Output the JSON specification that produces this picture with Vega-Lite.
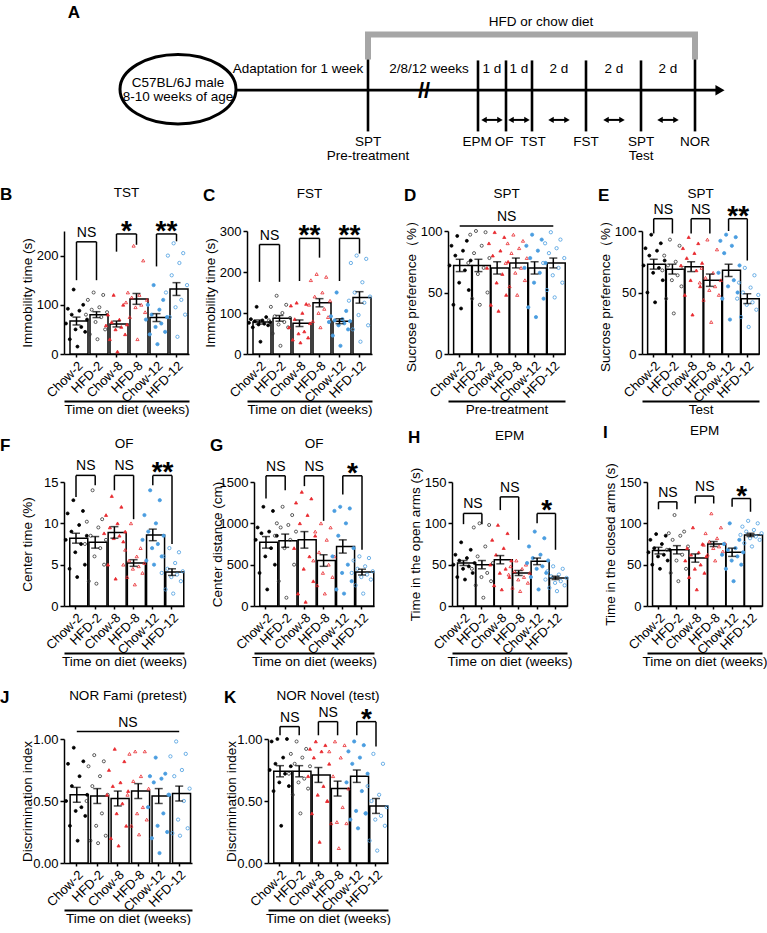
{
"$schema":"https://vega.github.io/schema/vega-lite/v6.json",
"padding":0,
"background":"white",
"config":{"font":"Liberation Sans","view":{"stroke":null},
 "axis":{"grid":false,"domainColor":"black","domainWidth":1.5,"tickColor":"black","tickWidth":1.5,"tickSize":4,"labelColor":"black","labelFontSize":13,"titleColor":"black","titleFontSize":13.5,"titleFontWeight":"normal","labelPadding":2},
 "axisY":{"minExtent":28,"maxExtent":28,"titlePadding":2,"labelOverlap":false},
 "axisX":{"labelAngle":-45,"tickSize":3,"labelOverlap":false},
 "title":{"fontSize":13.5,"fontWeight":"normal","color":"black","offset":8}},
"datasets":{
"schBracket":[{"x":304,"y":62,"o":1},{"x":304,"y":36,"o":2},{"x":631,"y":36,"o":3},{"x":631,"y":62,"o":4}],
"schRule":[{"x":172,"x2":652,"y":94,"y2":94},{"x":304,"x2":304,"y":62,"y2":137},{"x":414,"x2":414,"y":63,"y2":137},{"x":442,"x2":442,"y":63,"y2":137},{"x":468,"x2":468,"y":63,"y2":137},{"x":522,"x2":522,"y":63,"y2":137},{"x":577,"x2":577,"y":63,"y2":137},{"x":631,"x2":631,"y":62,"y2":137}],
"schArrow":[{"x":420,"x2":436,"y":125},{"x":447,"x2":463,"y":125},{"x":487,"x2":503,"y":125},{"x":542,"x2":558,"y":125},{"x":596,"x2":612,"y":125}],
"schNode":[{"k":"ellipse","x":114,"y":93},{"k":"head","x":656,"y":94}],
"schText":[{"k":"letter","x":10,"y":14,"t":"A"},{"k":"label","x":477,"y":23,"t":"HFD or chow diet"},{"k":"label","x":114,"y":86,"t":"C57BL/6J male"},{"k":"label","x":114,"y":101,"t":"8-10 weeks of age"},{"k":"label","x":234,"y":72,"t":"Adaptation for 1 week"},{"k":"label","x":365,"y":72,"t":"2/8/12 weeks"},{"k":"label","x":428,"y":72,"t":"1 d"},{"k":"label","x":455,"y":72,"t":"1 d"},{"k":"label","x":495,"y":72,"t":"2 d"},{"k":"label","x":550,"y":72,"t":"2 d"},{"k":"label","x":604,"y":72,"t":"2 d"},{"k":"label","x":304,"y":148,"t":"SPT"},{"k":"label","x":304,"y":163,"t":"Pre-treatment"},{"k":"label","x":413,"y":148,"t":"EPM"},{"k":"label","x":440,"y":148,"t":"OF"},{"k":"label","x":469,"y":148,"t":"TST"},{"k":"label","x":522,"y":148,"t":"FST"},{"k":"label","x":577,"y":148,"t":"SPT"},{"k":"label","x":577,"y":163,"t":"Test"},{"k":"label","x":631,"y":148,"t":"NOR"},{"k":"break","x":360,"y":95,"t":"//"}],
"bars":[
{"p":"B","g":"Chow-2","m":67,"s":8},{"p":"B","g":"HFD-2","m":80,"s":6},{"p":"B","g":"Chow-8","m":61,"s":6},{"p":"B","g":"HFD-8","m":112,"s":11},{"p":"B","g":"Chow-12","m":74,"s":8},{"p":"B","g":"HFD-12","m":132,"s":13},
{"p":"C","g":"Chow-2","m":78,"s":5},{"p":"C","g":"HFD-2","m":87,"s":7},{"p":"C","g":"Chow-8","m":75,"s":8},{"p":"C","g":"HFD-8","m":125,"s":10},{"p":"C","g":"Chow-12","m":80,"s":6},{"p":"C","g":"HFD-12","m":138,"s":14},
{"p":"D","g":"Chow-2","m":72,"s":5},{"p":"D","g":"HFD-2","m":72,"s":5},{"p":"D","g":"Chow-8","m":70,"s":5},{"p":"D","g":"HFD-8","m":74,"s":4},{"p":"D","g":"Chow-12","m":70,"s":5},{"p":"D","g":"HFD-12","m":74,"s":4},
{"p":"E","g":"Chow-2","m":73,"s":4},{"p":"E","g":"HFD-2","m":69,"s":4},{"p":"E","g":"Chow-8","m":71,"s":4},{"p":"E","g":"HFD-8","m":60,"s":5},{"p":"E","g":"Chow-12","m":68,"s":5},{"p":"E","g":"HFD-12","m":45,"s":4},
{"p":"F","g":"Chow-2","m":8.2,"s":0.6},{"p":"F","g":"HFD-2","m":7.7,"s":0.7},{"p":"F","g":"Chow-8","m":8.9,"s":0.7},{"p":"F","g":"HFD-8","m":5.2,"s":0.4},{"p":"F","g":"Chow-12","m":8.6,"s":0.7},{"p":"F","g":"HFD-12","m":4.1,"s":0.4},
{"p":"G","g":"Chow-2","m":770,"s":70},{"p":"G","g":"HFD-2","m":790,"s":80},{"p":"G","g":"Chow-8","m":800,"s":100},{"p":"G","g":"HFD-8","m":550,"s":70},{"p":"G","g":"Chow-12","m":720,"s":80},{"p":"G","g":"HFD-12","m":410,"s":35},
{"p":"H","g":"Chow-2","m":52,"s":3},{"p":"H","g":"HFD-2","m":50,"s":5},{"p":"H","g":"Chow-8","m":56,"s":5},{"p":"H","g":"HFD-8","m":40,"s":3},{"p":"H","g":"Chow-12","m":54,"s":4},{"p":"H","g":"HFD-12","m":34,"s":2},
{"p":"I","g":"Chow-2","m":67,"s":4},{"p":"I","g":"HFD-2","m":68,"s":5},{"p":"I","g":"Chow-8","m":58,"s":5},{"p":"I","g":"HFD-8","m":75,"s":3},{"p":"I","g":"Chow-12","m":65,"s":5},{"p":"I","g":"HFD-12","m":86,"s":2},
{"p":"J","g":"Chow-2","m":0.55,"s":0.06},{"p":"J","g":"HFD-2","m":0.54,"s":0.06},{"p":"J","g":"Chow-8","m":0.52,"s":0.06},{"p":"J","g":"HFD-8","m":0.58,"s":0.06},{"p":"J","g":"Chow-12","m":0.54,"s":0.06},{"p":"J","g":"HFD-12","m":0.56,"s":0.06},
{"p":"K","g":"Chow-2","m":0.74,"s":0.045},{"p":"K","g":"HFD-2","m":0.74,"s":0.045},{"p":"K","g":"Chow-8","m":0.71,"s":0.06},{"p":"K","g":"HFD-8","m":0.60,"s":0.06},{"p":"K","g":"Chow-12","m":0.70,"s":0.05},{"p":"K","g":"HFD-12","m":0.46,"s":0.06}],
"br":[
{"p":"B","g1":"Chow-2","g2":"HFD-2","tx":"Chow-2","top":228,"l":150,"rr":150,"t":"NS"},{"p":"B","g1":"Chow-8","g2":"HFD-8","tx":"Chow-8","top":244,"l":208,"rr":222,"t":"*"},{"p":"B","g1":"Chow-12","g2":"HFD-12","tx":"Chow-12","top":244,"l":178,"rr":229,"t":"**"},
{"p":"C","g1":"Chow-2","g2":"HFD-2","tx":"Chow-2","top":267,"l":176,"rr":176,"t":"NS"},{"p":"C","g1":"Chow-8","g2":"HFD-8","tx":"Chow-8","top":282,"l":178,"rr":235,"t":"**"},{"p":"C","g1":"Chow-12","g2":"HFD-12","tx":"Chow-12","top":282,"l":178,"rr":245,"t":"**"},
{"p":"D","g1":"Chow-2","g2":"HFD-12","tx":"Chow-8","top":104,"l":104,"rr":104,"t":"NS"},
{"p":"E","g1":"Chow-2","g2":"HFD-2","tx":"Chow-2","top":110,"l":98,"rr":98,"t":"NS"},{"p":"E","g1":"Chow-8","g2":"HFD-8","tx":"Chow-8","top":110,"l":98,"rr":98,"t":"NS"},{"p":"E","g1":"Chow-12","g2":"HFD-12","tx":"Chow-12","top":110,"l":100,"rr":76,"t":"**"},
{"p":"F","g1":"Chow-2","g2":"HFD-2","tx":"Chow-2","top":15.8,"l":13.2,"rr":14.6,"t":"NS"},{"p":"F","g1":"Chow-8","g2":"HFD-8","tx":"Chow-8","top":15.8,"l":14.0,"rr":10.5,"t":"NS"},{"p":"F","g1":"Chow-12","g2":"HFD-12","tx":"Chow-12","top":15.8,"l":14.6,"rr":7.5,"t":"**"},
{"p":"G","g1":"Chow-2","g2":"HFD-2","tx":"Chow-2","top":1575,"l":1300,"rr":1400,"t":"NS"},{"p":"G","g1":"Chow-8","g2":"HFD-8","tx":"Chow-8","top":1575,"l":1450,"rr":1030,"t":"NS"},{"p":"G","g1":"Chow-12","g2":"HFD-12","tx":"Chow-12","top":1575,"l":1350,"rr":680,"t":"*"},
{"p":"H","g1":"Chow-2","g2":"HFD-2","tx":"Chow-2","top":112,"l":99,"rr":99,"t":"NS"},{"p":"H","g1":"Chow-8","g2":"HFD-8","tx":"Chow-8","top":132,"l":116,"rr":80,"t":"NS"},{"p":"H","g1":"Chow-12","g2":"HFD-12","tx":"Chow-12","top":112,"l":100,"rr":68,"t":"*"},
{"p":"I","g1":"Chow-2","g2":"HFD-2","tx":"Chow-2","top":126,"l":117,"rr":117,"t":"NS"},{"p":"I","g1":"Chow-8","g2":"HFD-8","tx":"Chow-8","top":133,"l":124,"rr":124,"t":"NS"},{"p":"I","g1":"Chow-12","g2":"HFD-12","tx":"Chow-12","top":130,"l":120,"rr":114,"t":"*"},
{"p":"J","g1":"Chow-2","g2":"HFD-12","tx":"Chow-8","top":1.06,"l":1.06,"rr":1.06,"t":"NS"},
{"p":"K","g1":"Chow-2","g2":"HFD-2","tx":"Chow-2","top":1.10,"l":1.03,"rr":1.03,"t":"NS"},{"p":"K","g1":"Chow-8","g2":"HFD-8","tx":"Chow-8","top":1.14,"l":1.03,"rr":1.03,"t":"NS"},{"p":"K","g1":"Chow-12","g2":"HFD-12","tx":"Chow-12","top":1.14,"l":1.03,"rr":0.94,"t":"*"}],
"pts":[
{"p":"B","g":"Chow-2","r":1,"v":131},{"p":"B","g":"Chow-2","r":2,"v":100},{"p":"B","g":"Chow-2","r":3,"v":92},{"p":"B","g":"Chow-2","r":4,"v":88},{"p":"B","g":"Chow-2","r":5,"v":80},{"p":"B","g":"Chow-2","r":6,"v":70},{"p":"B","g":"Chow-2","r":7,"v":62},{"p":"B","g":"Chow-2","r":8,"v":55},{"p":"B","g":"Chow-2","r":9,"v":50},{"p":"B","g":"Chow-2","r":10,"v":45},{"p":"B","g":"Chow-2","r":11,"v":30},{"p":"B","g":"Chow-2","r":12,"v":15},
{"p":"B","g":"HFD-2","r":1,"v":125},{"p":"B","g":"HFD-2","r":2,"v":120},{"p":"B","g":"HFD-2","r":3,"v":110},{"p":"B","g":"HFD-2","r":4,"v":95},{"p":"B","g":"HFD-2","r":5,"v":90},{"p":"B","g":"HFD-2","r":6,"v":85},{"p":"B","g":"HFD-2","r":7,"v":80},{"p":"B","g":"HFD-2","r":8,"v":75},{"p":"B","g":"HFD-2","r":9,"v":65},{"p":"B","g":"HFD-2","r":10,"v":50},{"p":"B","g":"HFD-2","r":11,"v":40},{"p":"B","g":"HFD-2","r":12,"v":30},
{"p":"B","g":"Chow-8","r":1,"v":120},{"p":"B","g":"Chow-8","r":2,"v":100},{"p":"B","g":"Chow-8","r":3,"v":80},{"p":"B","g":"Chow-8","r":4,"v":70},{"p":"B","g":"Chow-8","r":5,"v":65},{"p":"B","g":"Chow-8","r":6,"v":60},{"p":"B","g":"Chow-8","r":7,"v":58},{"p":"B","g":"Chow-8","r":8,"v":55},{"p":"B","g":"Chow-8","r":9,"v":50},{"p":"B","g":"Chow-8","r":10,"v":40},{"p":"B","g":"Chow-8","r":11,"v":30},{"p":"B","g":"Chow-8","r":12,"v":5},
{"p":"B","g":"HFD-8","r":1,"v":220},{"p":"B","g":"HFD-8","r":2,"v":190},{"p":"B","g":"HFD-8","r":3,"v":125},{"p":"B","g":"HFD-8","r":4,"v":120},{"p":"B","g":"HFD-8","r":5,"v":115},{"p":"B","g":"HFD-8","r":6,"v":110},{"p":"B","g":"HFD-8","r":7,"v":105},{"p":"B","g":"HFD-8","r":8,"v":100},{"p":"B","g":"HFD-8","r":9,"v":95},{"p":"B","g":"HFD-8","r":10,"v":85},{"p":"B","g":"HFD-8","r":11,"v":75},{"p":"B","g":"HFD-8","r":12,"v":30},
{"p":"B","g":"Chow-12","r":1,"v":140},{"p":"B","g":"Chow-12","r":2,"v":110},{"p":"B","g":"Chow-12","r":3,"v":100},{"p":"B","g":"Chow-12","r":4,"v":90},{"p":"B","g":"Chow-12","r":5,"v":80},{"p":"B","g":"Chow-12","r":6,"v":75},{"p":"B","g":"Chow-12","r":7,"v":70},{"p":"B","g":"Chow-12","r":8,"v":62},{"p":"B","g":"Chow-12","r":9,"v":55},{"p":"B","g":"Chow-12","r":10,"v":45},{"p":"B","g":"Chow-12","r":11,"v":40},{"p":"B","g":"Chow-12","r":12,"v":20},
{"p":"B","g":"HFD-12","r":1,"v":225},{"p":"B","g":"HFD-12","r":2,"v":205},{"p":"B","g":"HFD-12","r":3,"v":200},{"p":"B","g":"HFD-12","r":4,"v":185},{"p":"B","g":"HFD-12","r":5,"v":160},{"p":"B","g":"HFD-12","r":6,"v":140},{"p":"B","g":"HFD-12","r":7,"v":125},{"p":"B","g":"HFD-12","r":8,"v":110},{"p":"B","g":"HFD-12","r":9,"v":95},{"p":"B","g":"HFD-12","r":10,"v":80},{"p":"B","g":"HFD-12","r":11,"v":75},{"p":"B","g":"HFD-12","r":12,"v":35},
{"p":"C","g":"Chow-2","r":1,"v":115},{"p":"C","g":"Chow-2","r":2,"v":90},{"p":"C","g":"Chow-2","r":3,"v":85},{"p":"C","g":"Chow-2","r":4,"v":82},{"p":"C","g":"Chow-2","r":5,"v":80},{"p":"C","g":"Chow-2","r":6,"v":78},{"p":"C","g":"Chow-2","r":7,"v":76},{"p":"C","g":"Chow-2","r":8,"v":74},{"p":"C","g":"Chow-2","r":9,"v":72},{"p":"C","g":"Chow-2","r":10,"v":70},{"p":"C","g":"Chow-2","r":11,"v":65},{"p":"C","g":"Chow-2","r":12,"v":30},
{"p":"C","g":"HFD-2","r":1,"v":142},{"p":"C","g":"HFD-2","r":2,"v":120},{"p":"C","g":"HFD-2","r":3,"v":115},{"p":"C","g":"HFD-2","r":4,"v":100},{"p":"C","g":"HFD-2","r":5,"v":92},{"p":"C","g":"HFD-2","r":6,"v":88},{"p":"C","g":"HFD-2","r":7,"v":82},{"p":"C","g":"HFD-2","r":8,"v":78},{"p":"C","g":"HFD-2","r":9,"v":72},{"p":"C","g":"HFD-2","r":10,"v":65},{"p":"C","g":"HFD-2","r":11,"v":50},{"p":"C","g":"HFD-2","r":12,"v":20},
{"p":"C","g":"Chow-8","r":1,"v":125},{"p":"C","g":"Chow-8","r":2,"v":122},{"p":"C","g":"Chow-8","r":3,"v":118},{"p":"C","g":"Chow-8","r":4,"v":100},{"p":"C","g":"Chow-8","r":5,"v":85},{"p":"C","g":"Chow-8","r":6,"v":75},{"p":"C","g":"Chow-8","r":7,"v":65},{"p":"C","g":"Chow-8","r":8,"v":55},{"p":"C","g":"Chow-8","r":9,"v":50},{"p":"C","g":"Chow-8","r":10,"v":40},{"p":"C","g":"Chow-8","r":11,"v":35},{"p":"C","g":"Chow-8","r":12,"v":28},
{"p":"C","g":"HFD-8","r":1,"v":195},{"p":"C","g":"HFD-8","r":2,"v":188},{"p":"C","g":"HFD-8","r":3,"v":180},{"p":"C","g":"HFD-8","r":4,"v":150},{"p":"C","g":"HFD-8","r":5,"v":140},{"p":"C","g":"HFD-8","r":6,"v":130},{"p":"C","g":"HFD-8","r":7,"v":120},{"p":"C","g":"HFD-8","r":8,"v":110},{"p":"C","g":"HFD-8","r":9,"v":100},{"p":"C","g":"HFD-8","r":10,"v":90},{"p":"C","g":"HFD-8","r":11,"v":80},{"p":"C","g":"HFD-8","r":12,"v":65},
{"p":"C","g":"Chow-12","r":1,"v":150},{"p":"C","g":"Chow-12","r":2,"v":105},{"p":"C","g":"Chow-12","r":3,"v":92},{"p":"C","g":"Chow-12","r":4,"v":85},{"p":"C","g":"Chow-12","r":5,"v":82},{"p":"C","g":"Chow-12","r":6,"v":80},{"p":"C","g":"Chow-12","r":7,"v":78},{"p":"C","g":"Chow-12","r":8,"v":75},{"p":"C","g":"Chow-12","r":9,"v":70},{"p":"C","g":"Chow-12","r":10,"v":60},{"p":"C","g":"Chow-12","r":11,"v":45},{"p":"C","g":"Chow-12","r":12,"v":20},
{"p":"C","g":"HFD-12","r":1,"v":240},{"p":"C","g":"HFD-12","r":2,"v":232},{"p":"C","g":"HFD-12","r":3,"v":222},{"p":"C","g":"HFD-12","r":4,"v":175},{"p":"C","g":"HFD-12","r":5,"v":150},{"p":"C","g":"HFD-12","r":6,"v":140},{"p":"C","g":"HFD-12","r":7,"v":130},{"p":"C","g":"HFD-12","r":8,"v":125},{"p":"C","g":"HFD-12","r":9,"v":95},{"p":"C","g":"HFD-12","r":10,"v":70},{"p":"C","g":"HFD-12","r":11,"v":60},{"p":"C","g":"HFD-12","r":12,"v":30},
{"p":"D","g":"Chow-2","r":1,"v":96},{"p":"D","g":"Chow-2","r":2,"v":92},{"p":"D","g":"Chow-2","r":3,"v":88},{"p":"D","g":"Chow-2","r":4,"v":84},{"p":"D","g":"Chow-2","r":5,"v":80},{"p":"D","g":"Chow-2","r":6,"v":76},{"p":"D","g":"Chow-2","r":7,"v":72},{"p":"D","g":"Chow-2","r":8,"v":68},{"p":"D","g":"Chow-2","r":9,"v":58},{"p":"D","g":"Chow-2","r":10,"v":52},{"p":"D","g":"Chow-2","r":11,"v":40},{"p":"D","g":"Chow-2","r":12,"v":37},
{"p":"D","g":"HFD-2","r":1,"v":100},{"p":"D","g":"HFD-2","r":2,"v":99},{"p":"D","g":"HFD-2","r":3,"v":97},{"p":"D","g":"HFD-2","r":4,"v":88},{"p":"D","g":"HFD-2","r":5,"v":82},{"p":"D","g":"HFD-2","r":6,"v":78},{"p":"D","g":"HFD-2","r":7,"v":74},{"p":"D","g":"HFD-2","r":8,"v":70},{"p":"D","g":"HFD-2","r":9,"v":65},{"p":"D","g":"HFD-2","r":10,"v":50},{"p":"D","g":"HFD-2","r":11,"v":45},{"p":"D","g":"HFD-2","r":12,"v":40},
{"p":"D","g":"Chow-8","r":1,"v":99},{"p":"D","g":"Chow-8","r":2,"v":95},{"p":"D","g":"Chow-8","r":3,"v":90},{"p":"D","g":"Chow-8","r":4,"v":84},{"p":"D","g":"Chow-8","r":5,"v":80},{"p":"D","g":"Chow-8","r":6,"v":75},{"p":"D","g":"Chow-8","r":7,"v":70},{"p":"D","g":"Chow-8","r":8,"v":65},{"p":"D","g":"Chow-8","r":9,"v":58},{"p":"D","g":"Chow-8","r":10,"v":48},{"p":"D","g":"Chow-8","r":11,"v":40},{"p":"D","g":"Chow-8","r":12,"v":35},
{"p":"D","g":"HFD-8","r":1,"v":97},{"p":"D","g":"HFD-8","r":2,"v":92},{"p":"D","g":"HFD-8","r":3,"v":90},{"p":"D","g":"HFD-8","r":4,"v":86},{"p":"D","g":"HFD-8","r":5,"v":82},{"p":"D","g":"HFD-8","r":6,"v":78},{"p":"D","g":"HFD-8","r":7,"v":74},{"p":"D","g":"HFD-8","r":8,"v":70},{"p":"D","g":"HFD-8","r":9,"v":66},{"p":"D","g":"HFD-8","r":10,"v":60},{"p":"D","g":"HFD-8","r":11,"v":55},{"p":"D","g":"HFD-8","r":12,"v":48},
{"p":"D","g":"Chow-12","r":1,"v":97},{"p":"D","g":"Chow-12","r":2,"v":93},{"p":"D","g":"Chow-12","r":3,"v":88},{"p":"D","g":"Chow-12","r":4,"v":84},{"p":"D","g":"Chow-12","r":5,"v":78},{"p":"D","g":"Chow-12","r":6,"v":74},{"p":"D","g":"Chow-12","r":7,"v":70},{"p":"D","g":"Chow-12","r":8,"v":66},{"p":"D","g":"Chow-12","r":9,"v":58},{"p":"D","g":"Chow-12","r":10,"v":45},{"p":"D","g":"Chow-12","r":11,"v":38},{"p":"D","g":"Chow-12","r":12,"v":30},
{"p":"D","g":"HFD-12","r":1,"v":99},{"p":"D","g":"HFD-12","r":2,"v":93},{"p":"D","g":"HFD-12","r":3,"v":90},{"p":"D","g":"HFD-12","r":4,"v":86},{"p":"D","g":"HFD-12","r":5,"v":82},{"p":"D","g":"HFD-12","r":6,"v":78},{"p":"D","g":"HFD-12","r":7,"v":74},{"p":"D","g":"HFD-12","r":8,"v":70},{"p":"D","g":"HFD-12","r":9,"v":64},{"p":"D","g":"HFD-12","r":10,"v":58},{"p":"D","g":"HFD-12","r":11,"v":52},{"p":"D","g":"HFD-12","r":12,"v":46},
{"p":"E","g":"Chow-2","r":1,"v":97},{"p":"E","g":"Chow-2","r":2,"v":90},{"p":"E","g":"Chow-2","r":3,"v":86},{"p":"E","g":"Chow-2","r":4,"v":84},{"p":"E","g":"Chow-2","r":5,"v":80},{"p":"E","g":"Chow-2","r":6,"v":76},{"p":"E","g":"Chow-2","r":7,"v":72},{"p":"E","g":"Chow-2","r":8,"v":70},{"p":"E","g":"Chow-2","r":9,"v":66},{"p":"E","g":"Chow-2","r":10,"v":60},{"p":"E","g":"Chow-2","r":11,"v":50},{"p":"E","g":"Chow-2","r":12,"v":42},
{"p":"E","g":"HFD-2","r":1,"v":93},{"p":"E","g":"HFD-2","r":2,"v":88},{"p":"E","g":"HFD-2","r":3,"v":80},{"p":"E","g":"HFD-2","r":4,"v":75},{"p":"E","g":"HFD-2","r":5,"v":72},{"p":"E","g":"HFD-2","r":6,"v":70},{"p":"E","g":"HFD-2","r":7,"v":68},{"p":"E","g":"HFD-2","r":8,"v":64},{"p":"E","g":"HFD-2","r":9,"v":60},{"p":"E","g":"HFD-2","r":10,"v":55},{"p":"E","g":"HFD-2","r":11,"v":45},{"p":"E","g":"HFD-2","r":12,"v":33},
{"p":"E","g":"Chow-8","r":1,"v":95},{"p":"E","g":"Chow-8","r":2,"v":90},{"p":"E","g":"Chow-8","r":3,"v":86},{"p":"E","g":"Chow-8","r":4,"v":82},{"p":"E","g":"Chow-8","r":5,"v":78},{"p":"E","g":"Chow-8","r":6,"v":74},{"p":"E","g":"Chow-8","r":7,"v":72},{"p":"E","g":"Chow-8","r":8,"v":68},{"p":"E","g":"Chow-8","r":9,"v":60},{"p":"E","g":"Chow-8","r":10,"v":55},{"p":"E","g":"Chow-8","r":11,"v":48},{"p":"E","g":"Chow-8","r":12,"v":32},
{"p":"E","g":"HFD-8","r":1,"v":93},{"p":"E","g":"HFD-8","r":2,"v":85},{"p":"E","g":"HFD-8","r":3,"v":70},{"p":"E","g":"HFD-8","r":4,"v":66},{"p":"E","g":"HFD-8","r":5,"v":62},{"p":"E","g":"HFD-8","r":6,"v":60},{"p":"E","g":"HFD-8","r":7,"v":58},{"p":"E","g":"HFD-8","r":8,"v":55},{"p":"E","g":"HFD-8","r":9,"v":52},{"p":"E","g":"HFD-8","r":10,"v":48},{"p":"E","g":"HFD-8","r":11,"v":44},{"p":"E","g":"HFD-8","r":12,"v":26},
{"p":"E","g":"Chow-12","r":1,"v":97},{"p":"E","g":"Chow-12","r":2,"v":95},{"p":"E","g":"Chow-12","r":3,"v":92},{"p":"E","g":"Chow-12","r":4,"v":88},{"p":"E","g":"Chow-12","r":5,"v":82},{"p":"E","g":"Chow-12","r":6,"v":72},{"p":"E","g":"Chow-12","r":7,"v":66},{"p":"E","g":"Chow-12","r":8,"v":60},{"p":"E","g":"Chow-12","r":9,"v":55},{"p":"E","g":"Chow-12","r":10,"v":50},{"p":"E","g":"Chow-12","r":11,"v":45},{"p":"E","g":"Chow-12","r":12,"v":28},
{"p":"E","g":"HFD-12","r":1,"v":70},{"p":"E","g":"HFD-12","r":2,"v":64},{"p":"E","g":"HFD-12","r":3,"v":58},{"p":"E","g":"HFD-12","r":4,"v":54},{"p":"E","g":"HFD-12","r":5,"v":50},{"p":"E","g":"HFD-12","r":6,"v":48},{"p":"E","g":"HFD-12","r":7,"v":45},{"p":"E","g":"HFD-12","r":8,"v":42},{"p":"E","g":"HFD-12","r":9,"v":40},{"p":"E","g":"HFD-12","r":10,"v":36},{"p":"E","g":"HFD-12","r":11,"v":30},{"p":"E","g":"HFD-12","r":12,"v":22},
{"p":"F","g":"Chow-2","r":1,"v":12.8},{"p":"F","g":"Chow-2","r":2,"v":11.5},{"p":"F","g":"Chow-2","r":3,"v":11.2},{"p":"F","g":"Chow-2","r":4,"v":9.8},{"p":"F","g":"Chow-2","r":5,"v":9.0},{"p":"F","g":"Chow-2","r":6,"v":8.5},{"p":"F","g":"Chow-2","r":7,"v":8.0},{"p":"F","g":"Chow-2","r":8,"v":7.5},{"p":"F","g":"Chow-2","r":9,"v":6.5},{"p":"F","g":"Chow-2","r":10,"v":5.0},{"p":"F","g":"Chow-2","r":11,"v":4.5},{"p":"F","g":"Chow-2","r":12,"v":3.5},
{"p":"F","g":"HFD-2","r":1,"v":14.0},{"p":"F","g":"HFD-2","r":2,"v":10.5},{"p":"F","g":"HFD-2","r":3,"v":10.2},{"p":"F","g":"HFD-2","r":4,"v":9.5},{"p":"F","g":"HFD-2","r":5,"v":8.5},{"p":"F","g":"HFD-2","r":6,"v":8.0},{"p":"F","g":"HFD-2","r":7,"v":7.5},{"p":"F","g":"HFD-2","r":8,"v":7.0},{"p":"F","g":"HFD-2","r":9,"v":6.0},{"p":"F","g":"HFD-2","r":10,"v":5.0},{"p":"F","g":"HFD-2","r":11,"v":3.0},{"p":"F","g":"HFD-2","r":12,"v":2.7},
{"p":"F","g":"Chow-8","r":1,"v":13.3},{"p":"F","g":"Chow-8","r":2,"v":12.0},{"p":"F","g":"Chow-8","r":3,"v":11.0},{"p":"F","g":"Chow-8","r":4,"v":10.0},{"p":"F","g":"Chow-8","r":5,"v":9.5},{"p":"F","g":"Chow-8","r":6,"v":9.0},{"p":"F","g":"Chow-8","r":7,"v":8.8},{"p":"F","g":"Chow-8","r":8,"v":8.5},{"p":"F","g":"Chow-8","r":9,"v":8.2},{"p":"F","g":"Chow-8","r":10,"v":7.8},{"p":"F","g":"Chow-8","r":11,"v":5.0},{"p":"F","g":"Chow-8","r":12,"v":3.3},
{"p":"F","g":"HFD-8","r":1,"v":10.0},{"p":"F","g":"HFD-8","r":2,"v":7.0},{"p":"F","g":"HFD-8","r":3,"v":6.8},{"p":"F","g":"HFD-8","r":4,"v":6.0},{"p":"F","g":"HFD-8","r":5,"v":5.5},{"p":"F","g":"HFD-8","r":6,"v":5.2},{"p":"F","g":"HFD-8","r":7,"v":5.0},{"p":"F","g":"HFD-8","r":8,"v":4.8},{"p":"F","g":"HFD-8","r":9,"v":4.5},{"p":"F","g":"HFD-8","r":10,"v":4.0},{"p":"F","g":"HFD-8","r":11,"v":3.5},{"p":"F","g":"HFD-8","r":12,"v":2.6},
{"p":"F","g":"Chow-12","r":1,"v":14.0},{"p":"F","g":"Chow-12","r":2,"v":12.8},{"p":"F","g":"Chow-12","r":3,"v":11.0},{"p":"F","g":"Chow-12","r":4,"v":10.0},{"p":"F","g":"Chow-12","r":5,"v":9.0},{"p":"F","g":"Chow-12","r":6,"v":8.5},{"p":"F","g":"Chow-12","r":7,"v":8.0},{"p":"F","g":"Chow-12","r":8,"v":7.5},{"p":"F","g":"Chow-12","r":9,"v":7.0},{"p":"F","g":"Chow-12","r":10,"v":6.0},{"p":"F","g":"Chow-12","r":11,"v":5.5},{"p":"F","g":"Chow-12","r":12,"v":5.0},
{"p":"F","g":"HFD-12","r":1,"v":7.0},{"p":"F","g":"HFD-12","r":2,"v":6.5},{"p":"F","g":"HFD-12","r":3,"v":6.0},{"p":"F","g":"HFD-12","r":4,"v":5.2},{"p":"F","g":"HFD-12","r":5,"v":4.5},{"p":"F","g":"HFD-12","r":6,"v":4.2},{"p":"F","g":"HFD-12","r":7,"v":4.0},{"p":"F","g":"HFD-12","r":8,"v":3.8},{"p":"F","g":"HFD-12","r":9,"v":3.5},{"p":"F","g":"HFD-12","r":10,"v":3.0},{"p":"F","g":"HFD-12","r":11,"v":2.0},{"p":"F","g":"HFD-12","r":12,"v":1.5},
{"p":"G","g":"Chow-2","r":1,"v":1200},{"p":"G","g":"Chow-2","r":2,"v":1150},{"p":"G","g":"Chow-2","r":3,"v":950},{"p":"G","g":"Chow-2","r":4,"v":900},{"p":"G","g":"Chow-2","r":5,"v":880},{"p":"G","g":"Chow-2","r":6,"v":850},{"p":"G","g":"Chow-2","r":7,"v":800},{"p":"G","g":"Chow-2","r":8,"v":700},{"p":"G","g":"Chow-2","r":9,"v":600},{"p":"G","g":"Chow-2","r":10,"v":500},{"p":"G","g":"Chow-2","r":11,"v":400},{"p":"G","g":"Chow-2","r":12,"v":200},
{"p":"G","g":"HFD-2","r":1,"v":1200},{"p":"G","g":"HFD-2","r":2,"v":1100},{"p":"G","g":"HFD-2","r":3,"v":1000},{"p":"G","g":"HFD-2","r":4,"v":980},{"p":"G","g":"HFD-2","r":5,"v":950},{"p":"G","g":"HFD-2","r":6,"v":900},{"p":"G","g":"HFD-2","r":7,"v":850},{"p":"G","g":"HFD-2","r":8,"v":800},{"p":"G","g":"HFD-2","r":9,"v":700},{"p":"G","g":"HFD-2","r":10,"v":500},{"p":"G","g":"HFD-2","r":11,"v":300},{"p":"G","g":"HFD-2","r":12,"v":100},
{"p":"G","g":"Chow-8","r":1,"v":1380},{"p":"G","g":"Chow-8","r":2,"v":1300},{"p":"G","g":"Chow-8","r":3,"v":1250},{"p":"G","g":"Chow-8","r":4,"v":1100},{"p":"G","g":"Chow-8","r":5,"v":1000},{"p":"G","g":"Chow-8","r":6,"v":850},{"p":"G","g":"Chow-8","r":7,"v":700},{"p":"G","g":"Chow-8","r":8,"v":600},{"p":"G","g":"Chow-8","r":9,"v":450},{"p":"G","g":"Chow-8","r":10,"v":300},{"p":"G","g":"Chow-8","r":11,"v":150},{"p":"G","g":"Chow-8","r":12,"v":50},
{"p":"G","g":"HFD-8","r":1,"v":1000},{"p":"G","g":"HFD-8","r":2,"v":950},{"p":"G","g":"HFD-8","r":3,"v":900},{"p":"G","g":"HFD-8","r":4,"v":800},{"p":"G","g":"HFD-8","r":5,"v":650},{"p":"G","g":"HFD-8","r":6,"v":600},{"p":"G","g":"HFD-8","r":7,"v":550},{"p":"G","g":"HFD-8","r":8,"v":500},{"p":"G","g":"HFD-8","r":9,"v":400},{"p":"G","g":"HFD-8","r":10,"v":350},{"p":"G","g":"HFD-8","r":11,"v":250},{"p":"G","g":"HFD-8","r":12,"v":150},
{"p":"G","g":"Chow-12","r":1,"v":1200},{"p":"G","g":"Chow-12","r":2,"v":1180},{"p":"G","g":"Chow-12","r":3,"v":1150},{"p":"G","g":"Chow-12","r":4,"v":1000},{"p":"G","g":"Chow-12","r":5,"v":850},{"p":"G","g":"Chow-12","r":6,"v":700},{"p":"G","g":"Chow-12","r":7,"v":600},{"p":"G","g":"Chow-12","r":8,"v":500},{"p":"G","g":"Chow-12","r":9,"v":400},{"p":"G","g":"Chow-12","r":10,"v":300},{"p":"G","g":"Chow-12","r":11,"v":200},{"p":"G","g":"Chow-12","r":12,"v":150},
{"p":"G","g":"HFD-12","r":1,"v":600},{"p":"G","g":"HFD-12","r":2,"v":580},{"p":"G","g":"HFD-12","r":3,"v":550},{"p":"G","g":"HFD-12","r":4,"v":480},{"p":"G","g":"HFD-12","r":5,"v":450},{"p":"G","g":"HFD-12","r":6,"v":420},{"p":"G","g":"HFD-12","r":7,"v":400},{"p":"G","g":"HFD-12","r":8,"v":380},{"p":"G","g":"HFD-12","r":9,"v":350},{"p":"G","g":"HFD-12","r":10,"v":320},{"p":"G","g":"HFD-12","r":11,"v":250},{"p":"G","g":"HFD-12","r":12,"v":150},
{"p":"H","g":"Chow-2","r":1,"v":77},{"p":"H","g":"Chow-2","r":2,"v":68},{"p":"H","g":"Chow-2","r":3,"v":62},{"p":"H","g":"Chow-2","r":4,"v":58},{"p":"H","g":"Chow-2","r":5,"v":55},{"p":"H","g":"Chow-2","r":6,"v":52},{"p":"H","g":"Chow-2","r":7,"v":50},{"p":"H","g":"Chow-2","r":8,"v":48},{"p":"H","g":"Chow-2","r":9,"v":45},{"p":"H","g":"Chow-2","r":10,"v":40},{"p":"H","g":"Chow-2","r":11,"v":35},{"p":"H","g":"Chow-2","r":12,"v":32},
{"p":"H","g":"HFD-2","r":1,"v":100},{"p":"H","g":"HFD-2","r":2,"v":98},{"p":"H","g":"HFD-2","r":3,"v":95},{"p":"H","g":"HFD-2","r":4,"v":72},{"p":"H","g":"HFD-2","r":5,"v":60},{"p":"H","g":"HFD-2","r":6,"v":52},{"p":"H","g":"HFD-2","r":7,"v":45},{"p":"H","g":"HFD-2","r":8,"v":40},{"p":"H","g":"HFD-2","r":9,"v":35},{"p":"H","g":"HFD-2","r":10,"v":30},{"p":"H","g":"HFD-2","r":11,"v":25},{"p":"H","g":"HFD-2","r":12,"v":10},
{"p":"H","g":"Chow-8","r":1,"v":98},{"p":"H","g":"Chow-8","r":2,"v":88},{"p":"H","g":"Chow-8","r":3,"v":80},{"p":"H","g":"Chow-8","r":4,"v":70},{"p":"H","g":"Chow-8","r":5,"v":62},{"p":"H","g":"Chow-8","r":6,"v":55},{"p":"H","g":"Chow-8","r":7,"v":50},{"p":"H","g":"Chow-8","r":8,"v":45},{"p":"H","g":"Chow-8","r":9,"v":40},{"p":"H","g":"Chow-8","r":10,"v":35},{"p":"H","g":"Chow-8","r":11,"v":25},{"p":"H","g":"Chow-8","r":12,"v":20},
{"p":"H","g":"HFD-8","r":1,"v":55},{"p":"H","g":"HFD-8","r":2,"v":50},{"p":"H","g":"HFD-8","r":3,"v":48},{"p":"H","g":"HFD-8","r":4,"v":45},{"p":"H","g":"HFD-8","r":5,"v":42},{"p":"H","g":"HFD-8","r":6,"v":40},{"p":"H","g":"HFD-8","r":7,"v":38},{"p":"H","g":"HFD-8","r":8,"v":35},{"p":"H","g":"HFD-8","r":9,"v":32},{"p":"H","g":"HFD-8","r":10,"v":28},{"p":"H","g":"HFD-8","r":11,"v":22},{"p":"H","g":"HFD-8","r":12,"v":18},
{"p":"H","g":"Chow-12","r":1,"v":90},{"p":"H","g":"Chow-12","r":2,"v":82},{"p":"H","g":"Chow-12","r":3,"v":72},{"p":"H","g":"Chow-12","r":4,"v":62},{"p":"H","g":"Chow-12","r":5,"v":58},{"p":"H","g":"Chow-12","r":6,"v":55},{"p":"H","g":"Chow-12","r":7,"v":52},{"p":"H","g":"Chow-12","r":8,"v":48},{"p":"H","g":"Chow-12","r":9,"v":45},{"p":"H","g":"Chow-12","r":10,"v":40},{"p":"H","g":"Chow-12","r":11,"v":35},{"p":"H","g":"Chow-12","r":12,"v":20},
{"p":"H","g":"HFD-12","r":1,"v":48},{"p":"H","g":"HFD-12","r":2,"v":45},{"p":"H","g":"HFD-12","r":3,"v":42},{"p":"H","g":"HFD-12","r":4,"v":38},{"p":"H","g":"HFD-12","r":5,"v":36},{"p":"H","g":"HFD-12","r":6,"v":34},{"p":"H","g":"HFD-12","r":7,"v":32},{"p":"H","g":"HFD-12","r":8,"v":30},{"p":"H","g":"HFD-12","r":9,"v":28},{"p":"H","g":"HFD-12","r":10,"v":25},{"p":"H","g":"HFD-12","r":11,"v":22},{"p":"H","g":"HFD-12","r":12,"v":18},
{"p":"I","g":"Chow-2","r":1,"v":87},{"p":"I","g":"Chow-2","r":2,"v":85},{"p":"I","g":"Chow-2","r":3,"v":80},{"p":"I","g":"Chow-2","r":4,"v":75},{"p":"I","g":"Chow-2","r":5,"v":70},{"p":"I","g":"Chow-2","r":6,"v":68},{"p":"I","g":"Chow-2","r":7,"v":65},{"p":"I","g":"Chow-2","r":8,"v":62},{"p":"I","g":"Chow-2","r":9,"v":60},{"p":"I","g":"Chow-2","r":10,"v":55},{"p":"I","g":"Chow-2","r":11,"v":50},{"p":"I","g":"Chow-2","r":12,"v":45},
{"p":"I","g":"HFD-2","r":1,"v":110},{"p":"I","g":"HFD-2","r":2,"v":90},{"p":"I","g":"HFD-2","r":3,"v":88},{"p":"I","g":"HFD-2","r":4,"v":85},{"p":"I","g":"HFD-2","r":5,"v":80},{"p":"I","g":"HFD-2","r":6,"v":72},{"p":"I","g":"HFD-2","r":7,"v":68},{"p":"I","g":"HFD-2","r":8,"v":62},{"p":"I","g":"HFD-2","r":9,"v":55},{"p":"I","g":"HFD-2","r":10,"v":45},{"p":"I","g":"HFD-2","r":11,"v":40},{"p":"I","g":"HFD-2","r":12,"v":30},
{"p":"I","g":"Chow-8","r":1,"v":95},{"p":"I","g":"Chow-8","r":2,"v":75},{"p":"I","g":"Chow-8","r":3,"v":70},{"p":"I","g":"Chow-8","r":4,"v":65},{"p":"I","g":"Chow-8","r":5,"v":62},{"p":"I","g":"Chow-8","r":6,"v":60},{"p":"I","g":"Chow-8","r":7,"v":55},{"p":"I","g":"Chow-8","r":8,"v":50},{"p":"I","g":"Chow-8","r":9,"v":45},{"p":"I","g":"Chow-8","r":10,"v":40},{"p":"I","g":"Chow-8","r":11,"v":35},{"p":"I","g":"Chow-8","r":12,"v":20},
{"p":"I","g":"HFD-8","r":1,"v":112},{"p":"I","g":"HFD-8","r":2,"v":95},{"p":"I","g":"HFD-8","r":3,"v":88},{"p":"I","g":"HFD-8","r":4,"v":82},{"p":"I","g":"HFD-8","r":5,"v":78},{"p":"I","g":"HFD-8","r":6,"v":76},{"p":"I","g":"HFD-8","r":7,"v":74},{"p":"I","g":"HFD-8","r":8,"v":72},{"p":"I","g":"HFD-8","r":9,"v":70},{"p":"I","g":"HFD-8","r":10,"v":66},{"p":"I","g":"HFD-8","r":11,"v":62},{"p":"I","g":"HFD-8","r":12,"v":55},
{"p":"I","g":"Chow-12","r":1,"v":100},{"p":"I","g":"Chow-12","r":2,"v":80},{"p":"I","g":"Chow-12","r":3,"v":75},{"p":"I","g":"Chow-12","r":4,"v":70},{"p":"I","g":"Chow-12","r":5,"v":68},{"p":"I","g":"Chow-12","r":6,"v":65},{"p":"I","g":"Chow-12","r":7,"v":62},{"p":"I","g":"Chow-12","r":8,"v":60},{"p":"I","g":"Chow-12","r":9,"v":55},{"p":"I","g":"Chow-12","r":10,"v":50},{"p":"I","g":"Chow-12","r":11,"v":45},{"p":"I","g":"Chow-12","r":12,"v":30},
{"p":"I","g":"HFD-12","r":1,"v":103},{"p":"I","g":"HFD-12","r":2,"v":100},{"p":"I","g":"HFD-12","r":3,"v":96},{"p":"I","g":"HFD-12","r":4,"v":92},{"p":"I","g":"HFD-12","r":5,"v":90},{"p":"I","g":"HFD-12","r":6,"v":88},{"p":"I","g":"HFD-12","r":7,"v":86},{"p":"I","g":"HFD-12","r":8,"v":84},{"p":"I","g":"HFD-12","r":9,"v":82},{"p":"I","g":"HFD-12","r":10,"v":80},{"p":"I","g":"HFD-12","r":11,"v":76},{"p":"I","g":"HFD-12","r":12,"v":72},
{"p":"J","g":"Chow-2","r":1,"v":0.93},{"p":"J","g":"Chow-2","r":2,"v":0.82},{"p":"J","g":"Chow-2","r":3,"v":0.80},{"p":"J","g":"Chow-2","r":4,"v":0.70},{"p":"J","g":"Chow-2","r":5,"v":0.62},{"p":"J","g":"Chow-2","r":6,"v":0.55},{"p":"J","g":"Chow-2","r":7,"v":0.50},{"p":"J","g":"Chow-2","r":8,"v":0.45},{"p":"J","g":"Chow-2","r":9,"v":0.42},{"p":"J","g":"Chow-2","r":10,"v":0.38},{"p":"J","g":"Chow-2","r":11,"v":0.30},{"p":"J","g":"Chow-2","r":12,"v":0.18},
{"p":"J","g":"HFD-2","r":1,"v":0.87},{"p":"J","g":"HFD-2","r":2,"v":0.82},{"p":"J","g":"HFD-2","r":3,"v":0.78},{"p":"J","g":"HFD-2","r":4,"v":0.70},{"p":"J","g":"HFD-2","r":5,"v":0.62},{"p":"J","g":"HFD-2","r":6,"v":0.55},{"p":"J","g":"HFD-2","r":7,"v":0.50},{"p":"J","g":"HFD-2","r":8,"v":0.40},{"p":"J","g":"HFD-2","r":9,"v":0.30},{"p":"J","g":"HFD-2","r":10,"v":0.22},{"p":"J","g":"HFD-2","r":11,"v":0.18},{"p":"J","g":"HFD-2","r":12,"v":0.16},
{"p":"J","g":"Chow-8","r":1,"v":0.92},{"p":"J","g":"Chow-8","r":2,"v":0.82},{"p":"J","g":"Chow-8","r":3,"v":0.75},{"p":"J","g":"Chow-8","r":4,"v":0.65},{"p":"J","g":"Chow-8","r":5,"v":0.62},{"p":"J","g":"Chow-8","r":6,"v":0.58},{"p":"J","g":"Chow-8","r":7,"v":0.55},{"p":"J","g":"Chow-8","r":8,"v":0.48},{"p":"J","g":"Chow-8","r":9,"v":0.40},{"p":"J","g":"Chow-8","r":10,"v":0.30},{"p":"J","g":"Chow-8","r":11,"v":0.20},{"p":"J","g":"Chow-8","r":12,"v":0.14},
{"p":"J","g":"HFD-8","r":1,"v":0.90},{"p":"J","g":"HFD-8","r":2,"v":0.90},{"p":"J","g":"HFD-8","r":3,"v":0.88},{"p":"J","g":"HFD-8","r":4,"v":0.70},{"p":"J","g":"HFD-8","r":5,"v":0.66},{"p":"J","g":"HFD-8","r":6,"v":0.60},{"p":"J","g":"HFD-8","r":7,"v":0.55},{"p":"J","g":"HFD-8","r":8,"v":0.45},{"p":"J","g":"HFD-8","r":9,"v":0.40},{"p":"J","g":"HFD-8","r":10,"v":0.35},{"p":"J","g":"HFD-8","r":11,"v":0.30},{"p":"J","g":"HFD-8","r":12,"v":0.23},
{"p":"J","g":"Chow-12","r":1,"v":0.85},{"p":"J","g":"Chow-12","r":2,"v":0.72},{"p":"J","g":"Chow-12","r":3,"v":0.70},{"p":"J","g":"Chow-12","r":4,"v":0.68},{"p":"J","g":"Chow-12","r":5,"v":0.65},{"p":"J","g":"Chow-12","r":6,"v":0.55},{"p":"J","g":"Chow-12","r":7,"v":0.45},{"p":"J","g":"Chow-12","r":8,"v":0.40},{"p":"J","g":"Chow-12","r":9,"v":0.30},{"p":"J","g":"Chow-12","r":10,"v":0.25},{"p":"J","g":"Chow-12","r":11,"v":0.20},{"p":"J","g":"Chow-12","r":12,"v":0.08},
{"p":"J","g":"HFD-12","r":1,"v":0.98},{"p":"J","g":"HFD-12","r":2,"v":0.88},{"p":"J","g":"HFD-12","r":3,"v":0.86},{"p":"J","g":"HFD-12","r":4,"v":0.75},{"p":"J","g":"HFD-12","r":5,"v":0.70},{"p":"J","g":"HFD-12","r":6,"v":0.60},{"p":"J","g":"HFD-12","r":7,"v":0.55},{"p":"J","g":"HFD-12","r":8,"v":0.50},{"p":"J","g":"HFD-12","r":9,"v":0.35},{"p":"J","g":"HFD-12","r":10,"v":0.28},{"p":"J","g":"HFD-12","r":11,"v":0.24},{"p":"J","g":"HFD-12","r":12,"v":0.22},
{"p":"K","g":"Chow-2","r":1,"v":1.00},{"p":"K","g":"Chow-2","r":2,"v":1.00},{"p":"K","g":"Chow-2","r":3,"v":0.98},{"p":"K","g":"Chow-2","r":4,"v":0.85},{"p":"K","g":"Chow-2","r":5,"v":0.80},{"p":"K","g":"Chow-2","r":6,"v":0.78},{"p":"K","g":"Chow-2","r":7,"v":0.75},{"p":"K","g":"Chow-2","r":8,"v":0.72},{"p":"K","g":"Chow-2","r":9,"v":0.65},{"p":"K","g":"Chow-2","r":10,"v":0.62},{"p":"K","g":"Chow-2","r":11,"v":0.58},{"p":"K","g":"Chow-2","r":12,"v":0.30},
{"p":"K","g":"HFD-2","r":1,"v":0.98},{"p":"K","g":"HFD-2","r":2,"v":0.92},{"p":"K","g":"HFD-2","r":3,"v":0.88},{"p":"K","g":"HFD-2","r":4,"v":0.85},{"p":"K","g":"HFD-2","r":5,"v":0.80},{"p":"K","g":"HFD-2","r":6,"v":0.78},{"p":"K","g":"HFD-2","r":7,"v":0.72},{"p":"K","g":"HFD-2","r":8,"v":0.68},{"p":"K","g":"HFD-2","r":9,"v":0.65},{"p":"K","g":"HFD-2","r":10,"v":0.60},{"p":"K","g":"HFD-2","r":11,"v":0.55},{"p":"K","g":"HFD-2","r":12,"v":0.40},
{"p":"K","g":"Chow-8","r":1,"v":0.98},{"p":"K","g":"Chow-8","r":2,"v":0.95},{"p":"K","g":"Chow-8","r":3,"v":0.92},{"p":"K","g":"Chow-8","r":4,"v":0.90},{"p":"K","g":"Chow-8","r":5,"v":0.85},{"p":"K","g":"Chow-8","r":6,"v":0.80},{"p":"K","g":"Chow-8","r":7,"v":0.70},{"p":"K","g":"Chow-8","r":8,"v":0.62},{"p":"K","g":"Chow-8","r":9,"v":0.55},{"p":"K","g":"Chow-8","r":10,"v":0.50},{"p":"K","g":"Chow-8","r":11,"v":0.40},{"p":"K","g":"Chow-8","r":12,"v":0.17},
{"p":"K","g":"HFD-8","r":1,"v":0.98},{"p":"K","g":"HFD-8","r":2,"v":0.95},{"p":"K","g":"HFD-8","r":3,"v":0.90},{"p":"K","g":"HFD-8","r":4,"v":0.85},{"p":"K","g":"HFD-8","r":5,"v":0.70},{"p":"K","g":"HFD-8","r":6,"v":0.60},{"p":"K","g":"HFD-8","r":7,"v":0.50},{"p":"K","g":"HFD-8","r":8,"v":0.45},{"p":"K","g":"HFD-8","r":9,"v":0.33},{"p":"K","g":"HFD-8","r":10,"v":0.32},{"p":"K","g":"HFD-8","r":11,"v":0.32},{"p":"K","g":"HFD-8","r":12,"v":0.12},
{"p":"K","g":"Chow-12","r":1,"v":0.98},{"p":"K","g":"Chow-12","r":2,"v":0.95},{"p":"K","g":"Chow-12","r":3,"v":0.90},{"p":"K","g":"Chow-12","r":4,"v":0.85},{"p":"K","g":"Chow-12","r":5,"v":0.80},{"p":"K","g":"Chow-12","r":6,"v":0.72},{"p":"K","g":"Chow-12","r":7,"v":0.65},{"p":"K","g":"Chow-12","r":8,"v":0.58},{"p":"K","g":"Chow-12","r":9,"v":0.42},{"p":"K","g":"Chow-12","r":10,"v":0.40},{"p":"K","g":"Chow-12","r":11,"v":0.35},{"p":"K","g":"Chow-12","r":12,"v":0.28},
{"p":"K","g":"HFD-12","r":1,"v":0.88},{"p":"K","g":"HFD-12","r":2,"v":0.80},{"p":"K","g":"HFD-12","r":3,"v":0.62},{"p":"K","g":"HFD-12","r":4,"v":0.55},{"p":"K","g":"HFD-12","r":5,"v":0.50},{"p":"K","g":"HFD-12","r":6,"v":0.45},{"p":"K","g":"HFD-12","r":7,"v":0.40},{"p":"K","g":"HFD-12","r":8,"v":0.38},{"p":"K","g":"HFD-12","r":9,"v":0.35},{"p":"K","g":"HFD-12","r":10,"v":0.30},{"p":"K","g":"HFD-12","r":11,"v":0.18},{"p":"K","g":"HFD-12","r":12,"v":0.10}]
},
"spacing":8,
"vconcat":[
{"spacing":21,"vconcat":[
{"width":767,"height":165,
 "layer":[
  {"data":{"name":"schBracket"},"mark":{"type":"line","color":"#A6A6A6","strokeWidth":6,"strokeCap":"butt","strokeJoin":"miter"},
   "encoding":{"x":{"field":"x","type":"quantitative","scale":{"domain":[0,767],"nice":false,"zero":false},"axis":null},"y":{"field":"y","type":"quantitative","scale":{"domain":[0,172],"nice":false,"zero":false,"reverse":true},"axis":null},"order":{"field":"o"}}},
  {"data":{"name":"schRule"},"mark":{"type":"rule","color":"black","strokeWidth":2.6},
   "encoding":{"x":{"field":"x","type":"quantitative","axis":null},"x2":{"field":"x2"},"y":{"field":"y","type":"quantitative","axis":null},"y2":{"field":"y2"}}},
  {"data":{"name":"schArrow"},"mark":{"type":"rule","color":"black","strokeWidth":2},
   "encoding":{"x":{"field":"x","type":"quantitative","axis":null},"x2":{"field":"x2"},"y":{"field":"y","type":"quantitative","axis":null}}},
  {"data":{"name":"schArrow"},"mark":{"type":"point","shape":"triangle-left","size":40,"filled":true,"color":"black","opacity":1},
   "encoding":{"x":{"field":"x","type":"quantitative","axis":null},"y":{"field":"y","type":"quantitative","axis":null}}},
  {"data":{"name":"schArrow"},"mark":{"type":"point","shape":"triangle-right","size":40,"filled":true,"color":"black","opacity":1},
   "encoding":{"x":{"field":"x2","type":"quantitative","axis":null},"y":{"field":"y","type":"quantitative","axis":null}}},
  {"data":{"name":"schNode"},"transform":[{"filter":"datum.k=='ellipse'"}],"mark":{"type":"point","shape":"M-1,0A1,0.6,0,1,1,1,0A1,0.6,0,1,1,-1,0Z","size":13456,"filled":false,"fill":"white","stroke":"black","strokeWidth":3,"opacity":1},
   "encoding":{"x":{"field":"x","type":"quantitative","axis":null},"y":{"field":"y","type":"quantitative","axis":null}}},
  {"data":{"name":"schNode"},"transform":[{"filter":"datum.k=='head'"}],"mark":{"type":"point","shape":"triangle-right","size":110,"filled":true,"color":"black","opacity":1},
   "encoding":{"x":{"field":"x","type":"quantitative","axis":null},"y":{"field":"y","type":"quantitative","axis":null}}},
  {"data":{"name":"schText"},"transform":[{"filter":"datum.k=='label'"}],"mark":{"type":"text","fontSize":13.5,"baseline":"middle","align":"center"},
   "encoding":{"x":{"field":"x","type":"quantitative","axis":null},"y":{"field":"y","type":"quantitative","axis":null},"text":{"field":"t"}}},
  {"data":{"name":"schText"},"transform":[{"filter":"datum.k=='letter'"}],"mark":{"type":"text","fontSize":17,"fontWeight":"bold","baseline":"middle","align":"center"},
   "encoding":{"x":{"field":"x","type":"quantitative","axis":null},"y":{"field":"y","type":"quantitative","axis":null},"text":{"field":"t"}}},
  {"data":{"name":"schText"},"transform":[{"filter":"datum.k=='break'"}],"mark":{"type":"text","fontSize":22,"fontWeight":"bold","baseline":"middle","align":"center"},
   "encoding":{"x":{"field":"x","type":"quantitative","axis":null},"y":{"field":"y","type":"quantitative","axis":null},"text":{"field":"t"}}}
 ]},
{"spacing":29,"hconcat":[
 {"spacing":12,"hconcat":[
  {"title":{"text":"B","anchor":"start","frame":"bounds","fontSize":17,"fontWeight":"bold","offset":0,"dx":-20,"dy":18},
   "hconcat":[{"width":125,"height":123,"title":{"text":"TST","offset":18},"resolve":{"axis":{"x":"independent"}},
   "layer":[
    {"data":{"name":"bars"},"transform":[{"filter":"datum.p=='B'"}],"mark":{"type":"bar","fill":"white","stroke":"black","strokeWidth":1.5},
     "encoding":{"x":{"field":"g","type":"nominal","scale":{"domain":["Chow-2","HFD-2","Chow-8","HFD-8","Chow-12","HFD-12"],"paddingInner":0.35,"paddingOuter":0.3},"axis":{"title":null}},
     "y":{"field":"m","type":"quantitative","scale":{"domain":[0,250],"nice":false},"axis":{"values":[0,50,100,150,200,250]},"title":"Immobility time (s)"}}},
    {"data":{"name":"pts"},"transform":[{"filter":"datum.p=='B'"}],"mark":{"type":"point","strokeWidth":0.8,"opacity":1},
     "encoding":{"x":{"field":"g","type":"nominal","axis":null},"xOffset":{"field":"r","type":"nominal","scale":{"domain":[7,3,11,5,1,9,12,4,8,2,10,6],"range":[-5,18]}},"y":{"field":"v","type":"quantitative","title":"Immobility time (s)"},
     "shape":{"field":"g","type":"nominal","scale":{"domain":["Chow-2","HFD-2","Chow-8","HFD-8","Chow-12","HFD-12"],"range":["circle","circle","triangle-up","triangle-up","circle","circle"]},"legend":null},
     "fill":{"field":"g","type":"nominal","scale":{"domain":["Chow-2","HFD-2","Chow-8","HFD-8","Chow-12","HFD-12"],"range":["#000000","transparent","#E8292F","transparent","#4A9DE0","transparent"]},"legend":null},
     "stroke":{"field":"g","type":"nominal","scale":{"domain":["Chow-2","HFD-2","Chow-8","HFD-8","Chow-12","HFD-12"],"range":["#000000","#333333","#E8292F","#E8292F","#4A9DE0","#4A9DE0"]},"legend":null},
     "size":{"field":"g","type":"nominal","scale":{"domain":["Chow-2","HFD-2","Chow-8","HFD-8","Chow-12","HFD-12"],"range":[9,11,10,12,8,11]},"legend":null}}},
    {"data":{"name":"bars"},"transform":[{"filter":"datum.p=='B'"}],"mark":{"type":"errorbar","ticks":{"size":8},"thickness":1.5,"color":"black"},
     "encoding":{"x":{"field":"g","type":"nominal","axis":null},"y":{"field":"m","type":"quantitative","title":"Immobility time (s)"},"yError":{"field":"s"}}},
    {"data":{"name":"br"},"transform":[{"filter":"datum.p=='B'"}],"mark":{"type":"rule","strokeWidth":1.5,"color":"black"},
     "encoding":{"x":{"field":"g1","type":"nominal","axis":{"orient":"bottom","offset":47,"labels":false,"ticks":false,"domainWidth":2,"title":"Time on diet (weeks)","titlePadding":1}},"x2":{"field":"g2"},"y":{"field":"top","type":"quantitative","title":"Immobility time (s)"}}},
    {"data":{"name":"br"},"transform":[{"filter":"datum.p=='B'"}],"mark":{"type":"rule","strokeWidth":1.5,"color":"black"},
     "encoding":{"x":{"field":"g1","type":"nominal","axis":null},"y":{"field":"top","type":"quantitative","title":"Immobility time (s)"},"y2":{"field":"l"}}},
    {"data":{"name":"br"},"transform":[{"filter":"datum.p=='B'"}],"mark":{"type":"rule","strokeWidth":1.5,"color":"black"},
     "encoding":{"x":{"field":"g2","type":"nominal","axis":null},"y":{"field":"top","type":"quantitative","title":"Immobility time (s)"},"y2":{"field":"rr"}}},
    {"data":{"name":"br"},"transform":[{"filter":"datum.p=='B' && datum.t=='NS'"}],"mark":{"type":"text","fontSize":14,"baseline":"alphabetic","dx":3.5,"dy":-5},
     "encoding":{"x":{"field":"tx","type":"nominal","bandPosition":1,"axis":null},"y":{"field":"top","type":"quantitative","title":"Immobility time (s)"},"text":{"field":"t"}}},
    {"data":{"name":"br"},"transform":[{"filter":"datum.p=='B' && datum.t!='NS'"}],"mark":{"type":"text","fontSize":28,"fontWeight":"bold","baseline":"alphabetic","dx":3.5,"dy":6},
     "encoding":{"x":{"field":"tx","type":"nominal","bandPosition":1,"axis":null},"y":{"field":"top","type":"quantitative","title":"Immobility time (s)"},"text":{"field":"t"}}}
   ]}]},
  {"title":{"text":"C","anchor":"start","frame":"bounds","fontSize":17,"fontWeight":"bold","offset":0,"dy":18},
   "hconcat":[{"width":125,"height":123,"title":{"text":"FST","offset":22},"resolve":{"axis":{"x":"independent"}},
   "layer":[
    {"data":{"name":"bars"},"transform":[{"filter":"datum.p=='C'"}],"mark":{"type":"bar","fill":"white","stroke":"black","strokeWidth":1.5},
     "encoding":{"x":{"field":"g","type":"nominal","scale":{"domain":["Chow-2","HFD-2","Chow-8","HFD-8","Chow-12","HFD-12"],"paddingInner":0.35,"paddingOuter":0.3},"axis":{"title":null}},
     "y":{"field":"m","type":"quantitative","scale":{"domain":[0,300],"nice":false},"axis":{"values":[0,100,200,300]},"title":"Immobility time (s)"}}},
    {"data":{"name":"pts"},"transform":[{"filter":"datum.p=='C'"}],"mark":{"type":"point","strokeWidth":0.8,"opacity":1},
     "encoding":{"x":{"field":"g","type":"nominal","axis":null},"xOffset":{"field":"r","type":"nominal","scale":{"domain":[7,3,11,5,1,9,12,4,8,2,10,6],"range":[-5,18]}},"y":{"field":"v","type":"quantitative","title":"Immobility time (s)"},
     "shape":{"field":"g","type":"nominal","scale":{"domain":["Chow-2","HFD-2","Chow-8","HFD-8","Chow-12","HFD-12"],"range":["circle","circle","triangle-up","triangle-up","circle","circle"]},"legend":null},
     "fill":{"field":"g","type":"nominal","scale":{"domain":["Chow-2","HFD-2","Chow-8","HFD-8","Chow-12","HFD-12"],"range":["#000000","transparent","#E8292F","transparent","#4A9DE0","transparent"]},"legend":null},
     "stroke":{"field":"g","type":"nominal","scale":{"domain":["Chow-2","HFD-2","Chow-8","HFD-8","Chow-12","HFD-12"],"range":["#000000","#333333","#E8292F","#E8292F","#4A9DE0","#4A9DE0"]},"legend":null},
     "size":{"field":"g","type":"nominal","scale":{"domain":["Chow-2","HFD-2","Chow-8","HFD-8","Chow-12","HFD-12"],"range":[9,11,10,12,8,11]},"legend":null}}},
    {"data":{"name":"bars"},"transform":[{"filter":"datum.p=='C'"}],"mark":{"type":"errorbar","ticks":{"size":8},"thickness":1.5,"color":"black"},
     "encoding":{"x":{"field":"g","type":"nominal","axis":null},"y":{"field":"m","type":"quantitative","title":"Immobility time (s)"},"yError":{"field":"s"}}},
    {"data":{"name":"br"},"transform":[{"filter":"datum.p=='C'"}],"mark":{"type":"rule","strokeWidth":1.5,"color":"black"},
     "encoding":{"x":{"field":"g1","type":"nominal","axis":{"orient":"bottom","offset":47,"labels":false,"ticks":false,"domainWidth":2,"title":"Time on diet (weeks)","titlePadding":1}},"x2":{"field":"g2"},"y":{"field":"top","type":"quantitative","title":"Immobility time (s)"}}},
    {"data":{"name":"br"},"transform":[{"filter":"datum.p=='C'"}],"mark":{"type":"rule","strokeWidth":1.5,"color":"black"},
     "encoding":{"x":{"field":"g1","type":"nominal","axis":null},"y":{"field":"top","type":"quantitative","title":"Immobility time (s)"},"y2":{"field":"l"}}},
    {"data":{"name":"br"},"transform":[{"filter":"datum.p=='C'"}],"mark":{"type":"rule","strokeWidth":1.5,"color":"black"},
     "encoding":{"x":{"field":"g2","type":"nominal","axis":null},"y":{"field":"top","type":"quantitative","title":"Immobility time (s)"},"y2":{"field":"rr"}}},
    {"data":{"name":"br"},"transform":[{"filter":"datum.p=='C' && datum.t=='NS'"}],"mark":{"type":"text","fontSize":14,"baseline":"alphabetic","dx":3.5,"dy":-5},
     "encoding":{"x":{"field":"tx","type":"nominal","bandPosition":1,"axis":null},"y":{"field":"top","type":"quantitative","title":"Immobility time (s)"},"text":{"field":"t"}}},
    {"data":{"name":"br"},"transform":[{"filter":"datum.p=='C' && datum.t!='NS'"}],"mark":{"type":"text","fontSize":28,"fontWeight":"bold","baseline":"alphabetic","dx":3.5,"dy":6},
     "encoding":{"x":{"field":"tx","type":"nominal","bandPosition":1,"axis":null},"y":{"field":"top","type":"quantitative","title":"Immobility time (s)"},"text":{"field":"t"}}}
   ]}]}
 ]},
 {"title":{"text":"D","anchor":"start","frame":"bounds","fontSize":17,"fontWeight":"bold","offset":0,"dy":18},
   "hconcat":[{"width":117,"height":123,"title":{"text":"SPT","offset":10},"resolve":{"axis":{"x":"independent"}},
   "layer":[
    {"data":{"name":"bars"},"transform":[{"filter":"datum.p=='D'"}],"mark":{"type":"bar","fill":"white","stroke":"black","strokeWidth":1.5},
     "encoding":{"x":{"field":"g","type":"nominal","scale":{"domain":["Chow-2","HFD-2","Chow-8","HFD-8","Chow-12","HFD-12"],"paddingInner":0.35,"paddingOuter":0.3},"axis":{"title":null}},
     "y":{"field":"m","type":"quantitative","scale":{"domain":[0,100],"nice":false},"axis":{"values":[0,50,100]},"title":"Sucrose preference（%）"}}},
    {"data":{"name":"pts"},"transform":[{"filter":"datum.p=='D'"}],"mark":{"type":"point","strokeWidth":0.8,"opacity":1},
     "encoding":{"x":{"field":"g","type":"nominal","axis":null},"xOffset":{"field":"r","type":"nominal","scale":{"domain":[7,3,11,5,1,9,12,4,8,2,10,6],"range":[-5,18]}},"y":{"field":"v","type":"quantitative","title":"Sucrose preference（%）"},
     "shape":{"field":"g","type":"nominal","scale":{"domain":["Chow-2","HFD-2","Chow-8","HFD-8","Chow-12","HFD-12"],"range":["circle","circle","triangle-up","triangle-up","circle","circle"]},"legend":null},
     "fill":{"field":"g","type":"nominal","scale":{"domain":["Chow-2","HFD-2","Chow-8","HFD-8","Chow-12","HFD-12"],"range":["#000000","transparent","#E8292F","transparent","#4A9DE0","transparent"]},"legend":null},
     "stroke":{"field":"g","type":"nominal","scale":{"domain":["Chow-2","HFD-2","Chow-8","HFD-8","Chow-12","HFD-12"],"range":["#000000","#333333","#E8292F","#E8292F","#4A9DE0","#4A9DE0"]},"legend":null},
     "size":{"field":"g","type":"nominal","scale":{"domain":["Chow-2","HFD-2","Chow-8","HFD-8","Chow-12","HFD-12"],"range":[9,11,10,12,8,11]},"legend":null}}},
    {"data":{"name":"bars"},"transform":[{"filter":"datum.p=='D'"}],"mark":{"type":"errorbar","ticks":{"size":8},"thickness":1.5,"color":"black"},
     "encoding":{"x":{"field":"g","type":"nominal","axis":null},"y":{"field":"m","type":"quantitative","title":"Sucrose preference（%）"},"yError":{"field":"s"}}},
    {"data":{"name":"br"},"transform":[{"filter":"datum.p=='D'"}],"mark":{"type":"rule","strokeWidth":1.5,"color":"black"},
     "encoding":{"x":{"field":"g1","type":"nominal","axis":{"orient":"bottom","offset":47,"labels":false,"ticks":false,"domainWidth":2,"title":"Pre-treatment","titlePadding":1}},"x2":{"field":"g2"},"y":{"field":"top","type":"quantitative","title":"Sucrose preference（%）"}}},
    {"data":{"name":"br"},"transform":[{"filter":"datum.p=='D' && datum.t=='NS'"}],"mark":{"type":"text","fontSize":14,"baseline":"alphabetic","dx":3.5,"dy":-5},
     "encoding":{"x":{"field":"tx","type":"nominal","bandPosition":1,"axis":null},"y":{"field":"top","type":"quantitative","title":"Sucrose preference（%）"},"text":{"field":"t"}}}
   ]}]},
 {"title":{"text":"E","anchor":"start","frame":"bounds","fontSize":17,"fontWeight":"bold","offset":0,"dy":18},
   "hconcat":[{"width":117,"height":123,"title":{"text":"SPT","offset":2},"resolve":{"axis":{"x":"independent"}},
   "layer":[
    {"data":{"name":"bars"},"transform":[{"filter":"datum.p=='E'"}],"mark":{"type":"bar","fill":"white","stroke":"black","strokeWidth":1.5},
     "encoding":{"x":{"field":"g","type":"nominal","scale":{"domain":["Chow-2","HFD-2","Chow-8","HFD-8","Chow-12","HFD-12"],"paddingInner":0.35,"paddingOuter":0.3},"axis":{"title":null}},
     "y":{"field":"m","type":"quantitative","scale":{"domain":[0,100],"nice":false},"axis":{"values":[0,50,100]},"title":"Sucrose preference（%）"}}},
    {"data":{"name":"pts"},"transform":[{"filter":"datum.p=='E'"}],"mark":{"type":"point","strokeWidth":0.8,"opacity":1},
     "encoding":{"x":{"field":"g","type":"nominal","axis":null},"xOffset":{"field":"r","type":"nominal","scale":{"domain":[7,3,11,5,1,9,12,4,8,2,10,6],"range":[-5,18]}},"y":{"field":"v","type":"quantitative","title":"Sucrose preference（%）"},
     "shape":{"field":"g","type":"nominal","scale":{"domain":["Chow-2","HFD-2","Chow-8","HFD-8","Chow-12","HFD-12"],"range":["circle","circle","triangle-up","triangle-up","circle","circle"]},"legend":null},
     "fill":{"field":"g","type":"nominal","scale":{"domain":["Chow-2","HFD-2","Chow-8","HFD-8","Chow-12","HFD-12"],"range":["#000000","transparent","#E8292F","transparent","#4A9DE0","transparent"]},"legend":null},
     "stroke":{"field":"g","type":"nominal","scale":{"domain":["Chow-2","HFD-2","Chow-8","HFD-8","Chow-12","HFD-12"],"range":["#000000","#333333","#E8292F","#E8292F","#4A9DE0","#4A9DE0"]},"legend":null},
     "size":{"field":"g","type":"nominal","scale":{"domain":["Chow-2","HFD-2","Chow-8","HFD-8","Chow-12","HFD-12"],"range":[9,11,10,12,8,11]},"legend":null}}},
    {"data":{"name":"bars"},"transform":[{"filter":"datum.p=='E'"}],"mark":{"type":"errorbar","ticks":{"size":8},"thickness":1.5,"color":"black"},
     "encoding":{"x":{"field":"g","type":"nominal","axis":null},"y":{"field":"m","type":"quantitative","title":"Sucrose preference（%）"},"yError":{"field":"s"}}},
    {"data":{"name":"br"},"transform":[{"filter":"datum.p=='E'"}],"mark":{"type":"rule","strokeWidth":1.5,"color":"black"},
     "encoding":{"x":{"field":"g1","type":"nominal","axis":{"orient":"bottom","offset":47,"labels":false,"ticks":false,"domainWidth":2,"title":"Test","titlePadding":1}},"x2":{"field":"g2"},"y":{"field":"top","type":"quantitative","title":"Sucrose preference（%）"}}},
    {"data":{"name":"br"},"transform":[{"filter":"datum.p=='E'"}],"mark":{"type":"rule","strokeWidth":1.5,"color":"black"},
     "encoding":{"x":{"field":"g1","type":"nominal","axis":null},"y":{"field":"top","type":"quantitative","title":"Sucrose preference（%）"},"y2":{"field":"l"}}},
    {"data":{"name":"br"},"transform":[{"filter":"datum.p=='E'"}],"mark":{"type":"rule","strokeWidth":1.5,"color":"black"},
     "encoding":{"x":{"field":"g2","type":"nominal","axis":null},"y":{"field":"top","type":"quantitative","title":"Sucrose preference（%）"},"y2":{"field":"rr"}}},
    {"data":{"name":"br"},"transform":[{"filter":"datum.p=='E' && datum.t=='NS'"}],"mark":{"type":"text","fontSize":14,"baseline":"alphabetic","dx":3.5,"dy":-5},
     "encoding":{"x":{"field":"tx","type":"nominal","bandPosition":1,"axis":null},"y":{"field":"top","type":"quantitative","title":"Sucrose preference（%）"},"text":{"field":"t"}}},
    {"data":{"name":"br"},"transform":[{"filter":"datum.p=='E' && datum.t!='NS'"}],"mark":{"type":"text","fontSize":28,"fontWeight":"bold","baseline":"alphabetic","dx":3.5,"dy":6},
     "encoding":{"x":{"field":"tx","type":"nominal","bandPosition":1,"axis":null},"y":{"field":"top","type":"quantitative","title":"Sucrose preference（%）"},"text":{"field":"t"}}}
   ]}]}
]}
]},
{"spacing":21,"vconcat":[
{"spacing":30,"hconcat":[
 {"spacing":22,"hconcat":[
  {"title":{"text":"F","anchor":"start","frame":"bounds","fontSize":17,"fontWeight":"bold","offset":0,"dx":-20,"dy":18},
   "hconcat":[{"width":120,"height":124,"title":{"text":"OF","offset":9},"resolve":{"axis":{"x":"independent"}},
   "layer":[
    {"data":{"name":"bars"},"transform":[{"filter":"datum.p=='F'"}],"mark":{"type":"bar","fill":"white","stroke":"black","strokeWidth":1.5},
     "encoding":{"x":{"field":"g","type":"nominal","scale":{"domain":["Chow-2","HFD-2","Chow-8","HFD-8","Chow-12","HFD-12"],"paddingInner":0.35,"paddingOuter":0.3},"axis":{"title":null}},
     "y":{"field":"m","type":"quantitative","scale":{"domain":[0,15],"nice":false},"axis":{"values":[0,5,10,15]},"title":"Center time (%)"}}},
    {"data":{"name":"pts"},"transform":[{"filter":"datum.p=='F'"}],"mark":{"type":"point","strokeWidth":0.8,"opacity":1},
     "encoding":{"x":{"field":"g","type":"nominal","axis":null},"xOffset":{"field":"r","type":"nominal","scale":{"domain":[7,3,11,5,1,9,12,4,8,2,10,6],"range":[-5,18]}},"y":{"field":"v","type":"quantitative","title":"Center time (%)"},
     "shape":{"field":"g","type":"nominal","scale":{"domain":["Chow-2","HFD-2","Chow-8","HFD-8","Chow-12","HFD-12"],"range":["circle","circle","triangle-up","triangle-up","circle","circle"]},"legend":null},
     "fill":{"field":"g","type":"nominal","scale":{"domain":["Chow-2","HFD-2","Chow-8","HFD-8","Chow-12","HFD-12"],"range":["#000000","transparent","#E8292F","transparent","#4A9DE0","transparent"]},"legend":null},
     "stroke":{"field":"g","type":"nominal","scale":{"domain":["Chow-2","HFD-2","Chow-8","HFD-8","Chow-12","HFD-12"],"range":["#000000","#333333","#E8292F","#E8292F","#4A9DE0","#4A9DE0"]},"legend":null},
     "size":{"field":"g","type":"nominal","scale":{"domain":["Chow-2","HFD-2","Chow-8","HFD-8","Chow-12","HFD-12"],"range":[9,11,10,12,8,11]},"legend":null}}},
    {"data":{"name":"bars"},"transform":[{"filter":"datum.p=='F'"}],"mark":{"type":"errorbar","ticks":{"size":8},"thickness":1.5,"color":"black"},
     "encoding":{"x":{"field":"g","type":"nominal","axis":null},"y":{"field":"m","type":"quantitative","title":"Center time (%)"},"yError":{"field":"s"}}},
    {"data":{"name":"br"},"transform":[{"filter":"datum.p=='F'"}],"mark":{"type":"rule","strokeWidth":1.5,"color":"black"},
     "encoding":{"x":{"field":"g1","type":"nominal","axis":{"orient":"bottom","offset":47,"labels":false,"ticks":false,"domainWidth":2,"title":"Time on diet (weeks)","titlePadding":1}},"x2":{"field":"g2"},"y":{"field":"top","type":"quantitative","title":"Center time (%)"}}},
    {"data":{"name":"br"},"transform":[{"filter":"datum.p=='F'"}],"mark":{"type":"rule","strokeWidth":1.5,"color":"black"},
     "encoding":{"x":{"field":"g1","type":"nominal","axis":null},"y":{"field":"top","type":"quantitative","title":"Center time (%)"},"y2":{"field":"l"}}},
    {"data":{"name":"br"},"transform":[{"filter":"datum.p=='F'"}],"mark":{"type":"rule","strokeWidth":1.5,"color":"black"},
     "encoding":{"x":{"field":"g2","type":"nominal","axis":null},"y":{"field":"top","type":"quantitative","title":"Center time (%)"},"y2":{"field":"rr"}}},
    {"data":{"name":"br"},"transform":[{"filter":"datum.p=='F' && datum.t=='NS'"}],"mark":{"type":"text","fontSize":14,"baseline":"alphabetic","dx":3.5,"dy":-5},
     "encoding":{"x":{"field":"tx","type":"nominal","bandPosition":1,"axis":null},"y":{"field":"top","type":"quantitative","title":"Center time (%)"},"text":{"field":"t"}}},
    {"data":{"name":"br"},"transform":[{"filter":"datum.p=='F' && datum.t!='NS'"}],"mark":{"type":"text","fontSize":28,"fontWeight":"bold","baseline":"alphabetic","dx":3.5,"dy":6},
     "encoding":{"x":{"field":"tx","type":"nominal","bandPosition":1,"axis":null},"y":{"field":"top","type":"quantitative","title":"Center time (%)"},"text":{"field":"t"}}}
   ]}]},
  {"title":{"text":"G","anchor":"start","frame":"bounds","fontSize":17,"fontWeight":"bold","offset":0,"dy":18},
   "hconcat":[{"width":120,"height":124,"title":{"text":"OF","offset":9},"resolve":{"axis":{"x":"independent"}},
   "layer":[
    {"data":{"name":"bars"},"transform":[{"filter":"datum.p=='G'"}],"mark":{"type":"bar","fill":"white","stroke":"black","strokeWidth":1.5},
     "encoding":{"x":{"field":"g","type":"nominal","scale":{"domain":["Chow-2","HFD-2","Chow-8","HFD-8","Chow-12","HFD-12"],"paddingInner":0.35,"paddingOuter":0.3},"axis":{"title":null}},
     "y":{"field":"m","type":"quantitative","scale":{"domain":[0,1500],"nice":false},"axis":{"values":[0,500,1000,1500],"format":"d"},"title":"Center distance (cm)"}}},
    {"data":{"name":"pts"},"transform":[{"filter":"datum.p=='G'"}],"mark":{"type":"point","strokeWidth":0.8,"opacity":1},
     "encoding":{"x":{"field":"g","type":"nominal","axis":null},"xOffset":{"field":"r","type":"nominal","scale":{"domain":[7,3,11,5,1,9,12,4,8,2,10,6],"range":[-5,18]}},"y":{"field":"v","type":"quantitative","title":"Center distance (cm)"},
     "shape":{"field":"g","type":"nominal","scale":{"domain":["Chow-2","HFD-2","Chow-8","HFD-8","Chow-12","HFD-12"],"range":["circle","circle","triangle-up","triangle-up","circle","circle"]},"legend":null},
     "fill":{"field":"g","type":"nominal","scale":{"domain":["Chow-2","HFD-2","Chow-8","HFD-8","Chow-12","HFD-12"],"range":["#000000","transparent","#E8292F","transparent","#4A9DE0","transparent"]},"legend":null},
     "stroke":{"field":"g","type":"nominal","scale":{"domain":["Chow-2","HFD-2","Chow-8","HFD-8","Chow-12","HFD-12"],"range":["#000000","#333333","#E8292F","#E8292F","#4A9DE0","#4A9DE0"]},"legend":null},
     "size":{"field":"g","type":"nominal","scale":{"domain":["Chow-2","HFD-2","Chow-8","HFD-8","Chow-12","HFD-12"],"range":[9,11,10,12,8,11]},"legend":null}}},
    {"data":{"name":"bars"},"transform":[{"filter":"datum.p=='G'"}],"mark":{"type":"errorbar","ticks":{"size":8},"thickness":1.5,"color":"black"},
     "encoding":{"x":{"field":"g","type":"nominal","axis":null},"y":{"field":"m","type":"quantitative","title":"Center distance (cm)"},"yError":{"field":"s"}}},
    {"data":{"name":"br"},"transform":[{"filter":"datum.p=='G'"}],"mark":{"type":"rule","strokeWidth":1.5,"color":"black"},
     "encoding":{"x":{"field":"g1","type":"nominal","axis":{"orient":"bottom","offset":47,"labels":false,"ticks":false,"domainWidth":2,"title":"Time on diet (weeks)","titlePadding":1}},"x2":{"field":"g2"},"y":{"field":"top","type":"quantitative","title":"Center distance (cm)"}}},
    {"data":{"name":"br"},"transform":[{"filter":"datum.p=='G'"}],"mark":{"type":"rule","strokeWidth":1.5,"color":"black"},
     "encoding":{"x":{"field":"g1","type":"nominal","axis":null},"y":{"field":"top","type":"quantitative","title":"Center distance (cm)"},"y2":{"field":"l"}}},
    {"data":{"name":"br"},"transform":[{"filter":"datum.p=='G'"}],"mark":{"type":"rule","strokeWidth":1.5,"color":"black"},
     "encoding":{"x":{"field":"g2","type":"nominal","axis":null},"y":{"field":"top","type":"quantitative","title":"Center distance (cm)"},"y2":{"field":"rr"}}},
    {"data":{"name":"br"},"transform":[{"filter":"datum.p=='G' && datum.t=='NS'"}],"mark":{"type":"text","fontSize":14,"baseline":"alphabetic","dx":3.5,"dy":-5},
     "encoding":{"x":{"field":"tx","type":"nominal","bandPosition":1,"axis":null},"y":{"field":"top","type":"quantitative","title":"Center distance (cm)"},"text":{"field":"t"}}},
    {"data":{"name":"br"},"transform":[{"filter":"datum.p=='G' && datum.t!='NS'"}],"mark":{"type":"text","fontSize":28,"fontWeight":"bold","baseline":"alphabetic","dx":3.5,"dy":6},
     "encoding":{"x":{"field":"tx","type":"nominal","bandPosition":1,"axis":null},"y":{"field":"top","type":"quantitative","title":"Center distance (cm)"},"text":{"field":"t"}}}
   ]}]}
 ]},
 {"title":{"text":"H","anchor":"start","frame":"bounds","fontSize":17,"fontWeight":"bold","offset":0,"dy":18},
   "hconcat":[{"width":115,"height":124,"title":{"text":"EPM","offset":25},"resolve":{"axis":{"x":"independent"}},
   "layer":[
    {"data":{"name":"bars"},"transform":[{"filter":"datum.p=='H'"}],"mark":{"type":"bar","fill":"white","stroke":"black","strokeWidth":1.5},
     "encoding":{"x":{"field":"g","type":"nominal","scale":{"domain":["Chow-2","HFD-2","Chow-8","HFD-8","Chow-12","HFD-12"],"paddingInner":0.35,"paddingOuter":0.3},"axis":{"title":null}},
     "y":{"field":"m","type":"quantitative","scale":{"domain":[0,150],"nice":false},"axis":{"values":[0,50,100,150]},"title":"Time in the open arms (s)"}}},
    {"data":{"name":"pts"},"transform":[{"filter":"datum.p=='H'"}],"mark":{"type":"point","strokeWidth":0.8,"opacity":1},
     "encoding":{"x":{"field":"g","type":"nominal","axis":null},"xOffset":{"field":"r","type":"nominal","scale":{"domain":[7,3,11,5,1,9,12,4,8,2,10,6],"range":[-5,18]}},"y":{"field":"v","type":"quantitative","title":"Time in the open arms (s)"},
     "shape":{"field":"g","type":"nominal","scale":{"domain":["Chow-2","HFD-2","Chow-8","HFD-8","Chow-12","HFD-12"],"range":["circle","circle","triangle-up","triangle-up","circle","circle"]},"legend":null},
     "fill":{"field":"g","type":"nominal","scale":{"domain":["Chow-2","HFD-2","Chow-8","HFD-8","Chow-12","HFD-12"],"range":["#000000","transparent","#E8292F","transparent","#4A9DE0","transparent"]},"legend":null},
     "stroke":{"field":"g","type":"nominal","scale":{"domain":["Chow-2","HFD-2","Chow-8","HFD-8","Chow-12","HFD-12"],"range":["#000000","#333333","#E8292F","#E8292F","#4A9DE0","#4A9DE0"]},"legend":null},
     "size":{"field":"g","type":"nominal","scale":{"domain":["Chow-2","HFD-2","Chow-8","HFD-8","Chow-12","HFD-12"],"range":[9,11,10,12,8,11]},"legend":null}}},
    {"data":{"name":"bars"},"transform":[{"filter":"datum.p=='H'"}],"mark":{"type":"errorbar","ticks":{"size":8},"thickness":1.5,"color":"black"},
     "encoding":{"x":{"field":"g","type":"nominal","axis":null},"y":{"field":"m","type":"quantitative","title":"Time in the open arms (s)"},"yError":{"field":"s"}}},
    {"data":{"name":"br"},"transform":[{"filter":"datum.p=='H'"}],"mark":{"type":"rule","strokeWidth":1.5,"color":"black"},
     "encoding":{"x":{"field":"g1","type":"nominal","axis":{"orient":"bottom","offset":47,"labels":false,"ticks":false,"domainWidth":2,"title":"Time on diet (weeks)","titlePadding":1}},"x2":{"field":"g2"},"y":{"field":"top","type":"quantitative","title":"Time in the open arms (s)"}}},
    {"data":{"name":"br"},"transform":[{"filter":"datum.p=='H'"}],"mark":{"type":"rule","strokeWidth":1.5,"color":"black"},
     "encoding":{"x":{"field":"g1","type":"nominal","axis":null},"y":{"field":"top","type":"quantitative","title":"Time in the open arms (s)"},"y2":{"field":"l"}}},
    {"data":{"name":"br"},"transform":[{"filter":"datum.p=='H'"}],"mark":{"type":"rule","strokeWidth":1.5,"color":"black"},
     "encoding":{"x":{"field":"g2","type":"nominal","axis":null},"y":{"field":"top","type":"quantitative","title":"Time in the open arms (s)"},"y2":{"field":"rr"}}},
    {"data":{"name":"br"},"transform":[{"filter":"datum.p=='H' && datum.t=='NS'"}],"mark":{"type":"text","fontSize":14,"baseline":"alphabetic","dx":3.5,"dy":-5},
     "encoding":{"x":{"field":"tx","type":"nominal","bandPosition":1,"axis":null},"y":{"field":"top","type":"quantitative","title":"Time in the open arms (s)"},"text":{"field":"t"}}},
    {"data":{"name":"br"},"transform":[{"filter":"datum.p=='H' && datum.t!='NS'"}],"mark":{"type":"text","fontSize":28,"fontWeight":"bold","baseline":"alphabetic","dx":3.5,"dy":6},
     "encoding":{"x":{"field":"tx","type":"nominal","bandPosition":1,"axis":null},"y":{"field":"top","type":"quantitative","title":"Time in the open arms (s)"},"text":{"field":"t"}}}
   ]}]},
 {"title":{"text":"I","anchor":"start","frame":"bounds","fontSize":17,"fontWeight":"bold","offset":0,"dy":18},
   "hconcat":[{"width":115,"height":124,"title":{"text":"EPM","offset":25},"resolve":{"axis":{"x":"independent"}},
   "layer":[
    {"data":{"name":"bars"},"transform":[{"filter":"datum.p=='I'"}],"mark":{"type":"bar","fill":"white","stroke":"black","strokeWidth":1.5},
     "encoding":{"x":{"field":"g","type":"nominal","scale":{"domain":["Chow-2","HFD-2","Chow-8","HFD-8","Chow-12","HFD-12"],"paddingInner":0.35,"paddingOuter":0.3},"axis":{"title":null}},
     "y":{"field":"m","type":"quantitative","scale":{"domain":[0,150],"nice":false},"axis":{"values":[0,50,100,150]},"title":"Time in the closed arms (s)"}}},
    {"data":{"name":"pts"},"transform":[{"filter":"datum.p=='I'"}],"mark":{"type":"point","strokeWidth":0.8,"opacity":1},
     "encoding":{"x":{"field":"g","type":"nominal","axis":null},"xOffset":{"field":"r","type":"nominal","scale":{"domain":[7,3,11,5,1,9,12,4,8,2,10,6],"range":[-5,18]}},"y":{"field":"v","type":"quantitative","title":"Time in the closed arms (s)"},
     "shape":{"field":"g","type":"nominal","scale":{"domain":["Chow-2","HFD-2","Chow-8","HFD-8","Chow-12","HFD-12"],"range":["circle","circle","triangle-up","triangle-up","circle","circle"]},"legend":null},
     "fill":{"field":"g","type":"nominal","scale":{"domain":["Chow-2","HFD-2","Chow-8","HFD-8","Chow-12","HFD-12"],"range":["#000000","transparent","#E8292F","transparent","#4A9DE0","transparent"]},"legend":null},
     "stroke":{"field":"g","type":"nominal","scale":{"domain":["Chow-2","HFD-2","Chow-8","HFD-8","Chow-12","HFD-12"],"range":["#000000","#333333","#E8292F","#E8292F","#4A9DE0","#4A9DE0"]},"legend":null},
     "size":{"field":"g","type":"nominal","scale":{"domain":["Chow-2","HFD-2","Chow-8","HFD-8","Chow-12","HFD-12"],"range":[9,11,10,12,8,11]},"legend":null}}},
    {"data":{"name":"bars"},"transform":[{"filter":"datum.p=='I'"}],"mark":{"type":"errorbar","ticks":{"size":8},"thickness":1.5,"color":"black"},
     "encoding":{"x":{"field":"g","type":"nominal","axis":null},"y":{"field":"m","type":"quantitative","title":"Time in the closed arms (s)"},"yError":{"field":"s"}}},
    {"data":{"name":"br"},"transform":[{"filter":"datum.p=='I'"}],"mark":{"type":"rule","strokeWidth":1.5,"color":"black"},
     "encoding":{"x":{"field":"g1","type":"nominal","axis":{"orient":"bottom","offset":47,"labels":false,"ticks":false,"domainWidth":2,"title":"Time on diet (weeks)","titlePadding":1}},"x2":{"field":"g2"},"y":{"field":"top","type":"quantitative","title":"Time in the closed arms (s)"}}},
    {"data":{"name":"br"},"transform":[{"filter":"datum.p=='I'"}],"mark":{"type":"rule","strokeWidth":1.5,"color":"black"},
     "encoding":{"x":{"field":"g1","type":"nominal","axis":null},"y":{"field":"top","type":"quantitative","title":"Time in the closed arms (s)"},"y2":{"field":"l"}}},
    {"data":{"name":"br"},"transform":[{"filter":"datum.p=='I'"}],"mark":{"type":"rule","strokeWidth":1.5,"color":"black"},
     "encoding":{"x":{"field":"g2","type":"nominal","axis":null},"y":{"field":"top","type":"quantitative","title":"Time in the closed arms (s)"},"y2":{"field":"rr"}}},
    {"data":{"name":"br"},"transform":[{"filter":"datum.p=='I' && datum.t=='NS'"}],"mark":{"type":"text","fontSize":14,"baseline":"alphabetic","dx":3.5,"dy":-5},
     "encoding":{"x":{"field":"tx","type":"nominal","bandPosition":1,"axis":null},"y":{"field":"top","type":"quantitative","title":"Time in the closed arms (s)"},"text":{"field":"t"}}},
    {"data":{"name":"br"},"transform":[{"filter":"datum.p=='I' && datum.t!='NS'"}],"mark":{"type":"text","fontSize":28,"fontWeight":"bold","baseline":"alphabetic","dx":3.5,"dy":6},
     "encoding":{"x":{"field":"tx","type":"nominal","bandPosition":1,"axis":null},"y":{"field":"top","type":"quantitative","title":"Time in the closed arms (s)"},"text":{"field":"t"}}}
   ]}]}
]},
{"spacing":30,"hconcat":[
  {"title":{"text":"J","anchor":"start","frame":"bounds","fontSize":17,"fontWeight":"bold","offset":0,"dx":-20,"dy":18},
   "hconcat":[{"width":128,"height":124,"title":{"text":"NOR Fami (pretest)","offset":13},"resolve":{"axis":{"x":"independent"}},
   "layer":[
    {"data":{"name":"bars"},"transform":[{"filter":"datum.p=='J'"}],"mark":{"type":"bar","fill":"white","stroke":"black","strokeWidth":1.5},
     "encoding":{"x":{"field":"g","type":"nominal","scale":{"domain":["Chow-2","HFD-2","Chow-8","HFD-8","Chow-12","HFD-12"],"paddingInner":0.35,"paddingOuter":0.3},"axis":{"title":null}},
     "y":{"field":"m","type":"quantitative","scale":{"domain":[0,1],"nice":false},"axis":{"values":[0,0.25,0.5,0.75,1],"format":".2f"},"title":"Discrimination index"}}},
    {"data":{"name":"pts"},"transform":[{"filter":"datum.p=='J'"}],"mark":{"type":"point","strokeWidth":0.8,"opacity":1},
     "encoding":{"x":{"field":"g","type":"nominal","axis":null},"xOffset":{"field":"r","type":"nominal","scale":{"domain":[7,3,11,5,1,9,12,4,8,2,10,6],"range":[-5,18]}},"y":{"field":"v","type":"quantitative","title":"Discrimination index"},
     "shape":{"field":"g","type":"nominal","scale":{"domain":["Chow-2","HFD-2","Chow-8","HFD-8","Chow-12","HFD-12"],"range":["circle","circle","triangle-up","triangle-up","circle","circle"]},"legend":null},
     "fill":{"field":"g","type":"nominal","scale":{"domain":["Chow-2","HFD-2","Chow-8","HFD-8","Chow-12","HFD-12"],"range":["#000000","transparent","#E8292F","transparent","#4A9DE0","transparent"]},"legend":null},
     "stroke":{"field":"g","type":"nominal","scale":{"domain":["Chow-2","HFD-2","Chow-8","HFD-8","Chow-12","HFD-12"],"range":["#000000","#333333","#E8292F","#E8292F","#4A9DE0","#4A9DE0"]},"legend":null},
     "size":{"field":"g","type":"nominal","scale":{"domain":["Chow-2","HFD-2","Chow-8","HFD-8","Chow-12","HFD-12"],"range":[9,11,10,12,8,11]},"legend":null}}},
    {"data":{"name":"bars"},"transform":[{"filter":"datum.p=='J'"}],"mark":{"type":"errorbar","ticks":{"size":8},"thickness":1.5,"color":"black"},
     "encoding":{"x":{"field":"g","type":"nominal","axis":null},"y":{"field":"m","type":"quantitative","title":"Discrimination index"},"yError":{"field":"s"}}},
    {"data":{"name":"br"},"transform":[{"filter":"datum.p=='J'"}],"mark":{"type":"rule","strokeWidth":1.5,"color":"black"},
     "encoding":{"x":{"field":"g1","type":"nominal","axis":{"orient":"bottom","offset":47,"labels":false,"ticks":false,"domainWidth":2,"title":"Time on diet (weeks)","titlePadding":1}},"x2":{"field":"g2"},"y":{"field":"top","type":"quantitative","title":"Discrimination index"}}},
    {"data":{"name":"br"},"transform":[{"filter":"datum.p=='J' && datum.t=='NS'"}],"mark":{"type":"text","fontSize":14,"baseline":"alphabetic","dx":3.5,"dy":-5},
     "encoding":{"x":{"field":"tx","type":"nominal","bandPosition":1,"axis":null},"y":{"field":"top","type":"quantitative","title":"Discrimination index"},"text":{"field":"t"}}}
   ]}]},
  {"title":{"text":"K","anchor":"start","frame":"bounds","fontSize":17,"fontWeight":"bold","offset":0,"dy":18},
   "hconcat":[{"width":120,"height":124,"title":{"text":"NOR Novel (test)","offset":3},"resolve":{"axis":{"x":"independent"}},
   "layer":[
    {"data":{"name":"bars"},"transform":[{"filter":"datum.p=='K'"}],"mark":{"type":"bar","fill":"white","stroke":"black","strokeWidth":1.5},
     "encoding":{"x":{"field":"g","type":"nominal","scale":{"domain":["Chow-2","HFD-2","Chow-8","HFD-8","Chow-12","HFD-12"],"paddingInner":0.35,"paddingOuter":0.3},"axis":{"title":null}},
     "y":{"field":"m","type":"quantitative","scale":{"domain":[0,1],"nice":false},"axis":{"values":[0,0.25,0.5,0.75,1],"format":".2f"},"title":"Discrimination index"}}},
    {"data":{"name":"pts"},"transform":[{"filter":"datum.p=='K'"}],"mark":{"type":"point","strokeWidth":0.8,"opacity":1},
     "encoding":{"x":{"field":"g","type":"nominal","axis":null},"xOffset":{"field":"r","type":"nominal","scale":{"domain":[7,3,11,5,1,9,12,4,8,2,10,6],"range":[-5,18]}},"y":{"field":"v","type":"quantitative","title":"Discrimination index"},
     "shape":{"field":"g","type":"nominal","scale":{"domain":["Chow-2","HFD-2","Chow-8","HFD-8","Chow-12","HFD-12"],"range":["circle","circle","triangle-up","triangle-up","circle","circle"]},"legend":null},
     "fill":{"field":"g","type":"nominal","scale":{"domain":["Chow-2","HFD-2","Chow-8","HFD-8","Chow-12","HFD-12"],"range":["#000000","transparent","#E8292F","transparent","#4A9DE0","transparent"]},"legend":null},
     "stroke":{"field":"g","type":"nominal","scale":{"domain":["Chow-2","HFD-2","Chow-8","HFD-8","Chow-12","HFD-12"],"range":["#000000","#333333","#E8292F","#E8292F","#4A9DE0","#4A9DE0"]},"legend":null},
     "size":{"field":"g","type":"nominal","scale":{"domain":["Chow-2","HFD-2","Chow-8","HFD-8","Chow-12","HFD-12"],"range":[9,11,10,12,8,11]},"legend":null}}},
    {"data":{"name":"bars"},"transform":[{"filter":"datum.p=='K'"}],"mark":{"type":"errorbar","ticks":{"size":8},"thickness":1.5,"color":"black"},
     "encoding":{"x":{"field":"g","type":"nominal","axis":null},"y":{"field":"m","type":"quantitative","title":"Discrimination index"},"yError":{"field":"s"}}},
    {"data":{"name":"br"},"transform":[{"filter":"datum.p=='K'"}],"mark":{"type":"rule","strokeWidth":1.5,"color":"black"},
     "encoding":{"x":{"field":"g1","type":"nominal","axis":{"orient":"bottom","offset":47,"labels":false,"ticks":false,"domainWidth":2,"title":"Time on diet (weeks)","titlePadding":1}},"x2":{"field":"g2"},"y":{"field":"top","type":"quantitative","title":"Discrimination index"}}},
    {"data":{"name":"br"},"transform":[{"filter":"datum.p=='K'"}],"mark":{"type":"rule","strokeWidth":1.5,"color":"black"},
     "encoding":{"x":{"field":"g1","type":"nominal","axis":null},"y":{"field":"top","type":"quantitative","title":"Discrimination index"},"y2":{"field":"l"}}},
    {"data":{"name":"br"},"transform":[{"filter":"datum.p=='K'"}],"mark":{"type":"rule","strokeWidth":1.5,"color":"black"},
     "encoding":{"x":{"field":"g2","type":"nominal","axis":null},"y":{"field":"top","type":"quantitative","title":"Discrimination index"},"y2":{"field":"rr"}}},
    {"data":{"name":"br"},"transform":[{"filter":"datum.p=='K' && datum.t=='NS'"}],"mark":{"type":"text","fontSize":14,"baseline":"alphabetic","dx":3.5,"dy":-5},
     "encoding":{"x":{"field":"tx","type":"nominal","bandPosition":1,"axis":null},"y":{"field":"top","type":"quantitative","title":"Discrimination index"},"text":{"field":"t"}}},
    {"data":{"name":"br"},"transform":[{"filter":"datum.p=='K' && datum.t!='NS'"}],"mark":{"type":"text","fontSize":28,"fontWeight":"bold","baseline":"alphabetic","dx":3.5,"dy":6},
     "encoding":{"x":{"field":"tx","type":"nominal","bandPosition":1,"axis":null},"y":{"field":"top","type":"quantitative","title":"Discrimination index"},"text":{"field":"t"}}}
   ]}]}
]}
]}
]
}
